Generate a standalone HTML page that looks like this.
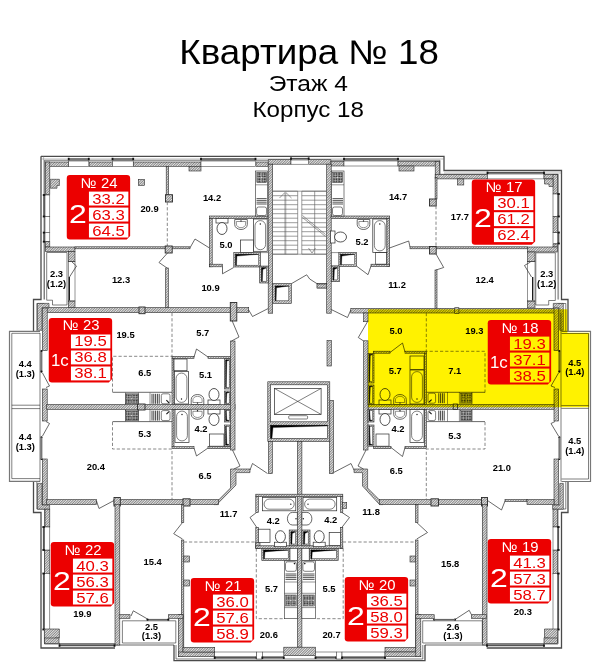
<!DOCTYPE html>
<html><head><meta charset="utf-8"><title>Квартира № 18</title>
<style>
html,body{margin:0;padding:0;background:#fff;}
body{width:600px;height:669px;overflow:hidden;font-family:"Liberation Sans",sans-serif;}
svg{display:block;font-family:"Liberation Sans",sans-serif;}
</style></head><body>
<svg width="600" height="669" viewBox="0 0 600 669">
<defs>
<pattern id="h" width="1.8" height="1.8" patternUnits="userSpaceOnUse" patternTransform="rotate(-45)">
<rect width="1.8" height="1.8" fill="#e4e4e4"/><rect width="1.8" height="0.8" fill="#7c7c7c"/>
</pattern>
<pattern id="g" width="1.6" height="1.6" patternUnits="userSpaceOnUse">
<rect width="1.6" height="1.6" fill="#fff"/><rect width="1.25" height="1.25" fill="#262626"/>
</pattern>
</defs>
<rect width="600" height="669" fill="#fff"/>
<g font-family="Liberation Sans, sans-serif">
<text x="309.1" y="63.8" font-size="34.3" text-anchor="middle" fill="#000" textLength="259.5" lengthAdjust="spacingAndGlyphs">Квартира № 18</text>
<text x="308.3" y="90.5" font-size="22.5" text-anchor="middle" fill="#000" textLength="79.3" lengthAdjust="spacingAndGlyphs">Этаж 4</text>
<text x="308.2" y="116.8" font-size="22.5" text-anchor="middle" fill="#000" textLength="111.5" lengthAdjust="spacingAndGlyphs">Корпус 18</text>
<polyline points="41,156.3 444,156.3 444,170.5 561.5,170.5 561.5,299.5 568,299.5 568,331.3" fill="none" stroke="#4a4a4a" stroke-width="1.3"/>
<polyline points="568,481.5 568,512.5 561.5,512.5 561.5,648 486.7,648" fill="none" stroke="#4a4a4a" stroke-width="1.3"/>
<polyline points="425,645 425,660.7 174,660.7 174,645" fill="none" stroke="#4a4a4a" stroke-width="1.3"/>
<line x1="486.7" y1="645" x2="425" y2="645" stroke="#2a2a2a" stroke-width="0.7"/>
<line x1="174" y1="645" x2="115" y2="645" stroke="#2a2a2a" stroke-width="0.7"/>
<polyline points="115,648 41,648 41,512.5 33.5,512.5 33.5,481.5" fill="none" stroke="#4a4a4a" stroke-width="1.3"/>
<polyline points="33.5,331.3 33.5,299.5 41,299.5 41,156.3" fill="none" stroke="#4a4a4a" stroke-width="1.3"/>
<polyline points="44.5,299.5 44.5,160.3 440,160.3 440,174.3 558,174.3 558,299.5" fill="none" stroke="#2a2a2a" stroke-width="0.6"/>
<polyline points="558,303.5 565.8,303.5 565.8,331.3" fill="none" stroke="#2a2a2a" stroke-width="0.6"/>
<polyline points="565.8,481.5 565.8,509 558,509 558,644 486.7,644" fill="none" stroke="#2a2a2a" stroke-width="0.6"/>
<polyline points="422.8,645 422.8,659 176,659 176,645" fill="none" stroke="#2a2a2a" stroke-width="0.6"/>
<polyline points="115,644 44.5,644 44.5,509 36.8,509 36.8,481.5" fill="none" stroke="#2a2a2a" stroke-width="0.6"/>
<polyline points="36.8,331.3 36.8,303.5 44.5,303.5" fill="none" stroke="#2a2a2a" stroke-width="0.6"/>
<line x1="41" y1="159" x2="444" y2="159" stroke="#777" stroke-width="0.5"/>
<rect x="45.3" y="162" width="23.4" height="4.3" fill="url(#h)" stroke="#2a2a2a" stroke-width="0.6"/>
<rect x="45.3" y="162" width="4.5" height="32.5" fill="url(#h)" stroke="#2a2a2a" stroke-width="0.6"/>
<rect x="89.2" y="162" width="23.3" height="4.3" fill="url(#h)" stroke="#2a2a2a" stroke-width="0.6"/>
<rect x="133.5" y="162" width="67.5" height="4.3" fill="url(#h)" stroke="#2a2a2a" stroke-width="0.6"/>
<rect x="189" y="166.3" width="12" height="4.7" fill="url(#h)" stroke="#2a2a2a" stroke-width="0.6"/>
<rect x="256" y="162" width="12.2" height="4.3" fill="url(#h)" stroke="#2a2a2a" stroke-width="0.6"/>
<rect x="68.7" y="161" width="20.1" height="5.3" fill="#fff" stroke="#2a2a2a" stroke-width="0.5"/>
<line x1="68.7" y1="159" x2="88.8" y2="159" stroke="#555" stroke-width="1.4"/>
<rect x="67.8" y="157.8" width="1.8" height="2.4" fill="#111"/>
<rect x="87.9" y="157.8" width="1.8" height="2.4" fill="#111"/>
<rect x="112.5" y="161" width="20.7" height="5.3" fill="#fff" stroke="#2a2a2a" stroke-width="0.5"/>
<line x1="112.5" y1="159" x2="133.2" y2="159" stroke="#555" stroke-width="1.4"/>
<rect x="111.6" y="157.8" width="1.8" height="2.4" fill="#111"/>
<rect x="132.3" y="157.8" width="1.8" height="2.4" fill="#111"/>
<rect x="201" y="161" width="54.5" height="5.3" fill="#fff" stroke="#2a2a2a" stroke-width="0.5"/>
<line x1="201" y1="159" x2="255.5" y2="159" stroke="#555" stroke-width="1.4"/>
<rect x="200.1" y="157.8" width="1.8" height="2.4" fill="#111"/>
<rect x="254.6" y="157.8" width="1.8" height="2.4" fill="#111"/>
<rect x="268.2" y="159.7" width="22.8" height="4.5" fill="url(#h)" stroke="#2a2a2a" stroke-width="0.6"/>
<rect x="308.7" y="159.7" width="22.2" height="4.5" fill="url(#h)" stroke="#2a2a2a" stroke-width="0.6"/>
<rect x="291" y="160" width="17.7" height="4.2" fill="#fff" stroke="#2a2a2a" stroke-width="0.5"/>
<line x1="291" y1="158.6" x2="308.7" y2="158.6" stroke="#555" stroke-width="1.4"/>
<rect x="290.1" y="157.4" width="1.8" height="2.4" fill="#111"/>
<rect x="307.8" y="157.4" width="1.8" height="2.4" fill="#111"/>
<rect x="331" y="161.5" width="13" height="4.5" fill="url(#h)" stroke="#2a2a2a" stroke-width="0.6"/>
<rect x="344" y="161" width="54" height="5" fill="#fff" stroke="#2a2a2a" stroke-width="0.5"/>
<line x1="344" y1="159" x2="398" y2="159" stroke="#555" stroke-width="1.4"/>
<rect x="343.1" y="157.8" width="1.8" height="2.4" fill="#111"/>
<rect x="397.1" y="157.8" width="1.8" height="2.4" fill="#111"/>
<rect x="398" y="161.5" width="41.5" height="4.5" fill="url(#h)" stroke="#2a2a2a" stroke-width="0.6"/>
<rect x="399" y="166" width="15" height="5" fill="url(#h)" stroke="#2a2a2a" stroke-width="0.6"/>
<rect x="435.2" y="161.5" width="4.3" height="16" fill="url(#h)" stroke="#2a2a2a" stroke-width="0.6"/>
<rect x="435.2" y="174.6" width="52.3" height="4.3" fill="url(#h)" stroke="#2a2a2a" stroke-width="0.6"/>
<rect x="457.5" y="178.9" width="6.3" height="6.1" fill="url(#h)" stroke="#2a2a2a" stroke-width="0.6"/>
<line x1="444" y1="173" x2="561.5" y2="173" stroke="#777" stroke-width="0.5"/>
<rect x="487.5" y="174" width="56.5" height="4.9" fill="#fff" stroke="#2a2a2a" stroke-width="0.5"/>
<line x1="487.5" y1="172.8" x2="544" y2="172.8" stroke="#555" stroke-width="1.4"/>
<rect x="486.6" y="171.6" width="1.8" height="2.4" fill="#111"/>
<rect x="543.1" y="171.6" width="1.8" height="2.4" fill="#111"/>
<rect x="544" y="174.6" width="13.6" height="4.3" fill="url(#h)" stroke="#2a2a2a" stroke-width="0.6"/>
<rect x="553" y="174.6" width="4.6" height="19.4" fill="url(#h)" stroke="#2a2a2a" stroke-width="0.6"/>
<polygon points="544.5,178.9 553,178.9 553,186.5 549,186.5 549,184 544.5,184" fill="url(#h)" stroke="#2a2a2a" stroke-width="0.6"/>
<polygon points="50.3,179.3 59.4,179.3 59.4,185.5 57,185.5 57,188.2 50.3,188.2" fill="url(#h)" stroke="#2a2a2a" stroke-width="0.6"/>
<rect x="138.3" y="179.5" width="6.2" height="5.8" fill="url(#h)" stroke="#2a2a2a" stroke-width="0.6"/>
<line x1="43.6" y1="156.3" x2="43.6" y2="299.5" stroke="#777" stroke-width="0.5"/>
<rect x="45" y="195" width="4.8" height="21.5" fill="#fff" stroke="#2a2a2a" stroke-width="0.5"/>
<line x1="44" y1="195" x2="44" y2="216.5" stroke="#555" stroke-width="1.4"/>
<rect x="42.8" y="194.1" width="2.4" height="1.8" fill="#111"/>
<rect x="42.8" y="215.6" width="2.4" height="1.8" fill="#111"/>
<rect x="45" y="232.6" width="4.8" height="9.1" fill="#fff" stroke="#2a2a2a" stroke-width="0.5"/>
<line x1="44" y1="232.6" x2="44" y2="241.7" stroke="#555" stroke-width="1.4"/>
<rect x="42.8" y="231.7" width="2.4" height="1.8" fill="#111"/>
<rect x="42.8" y="240.8" width="2.4" height="1.8" fill="#111"/>
<rect x="45" y="216.5" width="4.8" height="16.1" fill="#fff" stroke="#2a2a2a" stroke-width="0.5"/>
<rect x="45.3" y="241.7" width="4.5" height="5.3" fill="url(#h)" stroke="#2a2a2a" stroke-width="0.6"/>
<line x1="558.6" y1="174" x2="558.6" y2="299.5" stroke="#777" stroke-width="0.5"/>
<rect x="553" y="194" width="4.6" height="22.5" fill="#fff" stroke="#2a2a2a" stroke-width="0.5"/>
<line x1="558.6" y1="194" x2="558.6" y2="216.5" stroke="#555" stroke-width="1.4"/>
<rect x="557.4" y="193.1" width="2.4" height="1.8" fill="#111"/>
<rect x="557.4" y="215.6" width="2.4" height="1.8" fill="#111"/>
<rect x="553" y="232.5" width="4.6" height="11" fill="#fff" stroke="#2a2a2a" stroke-width="0.5"/>
<line x1="558.6" y1="232.5" x2="558.6" y2="243.5" stroke="#555" stroke-width="1.4"/>
<rect x="557.4" y="231.6" width="2.4" height="1.8" fill="#111"/>
<rect x="557.4" y="242.6" width="2.4" height="1.8" fill="#111"/>
<rect x="553" y="216.5" width="4.6" height="16" fill="url(#h)" stroke="#2a2a2a" stroke-width="0.6"/>
<rect x="553" y="244" width="4.6" height="3" fill="url(#h)" stroke="#2a2a2a" stroke-width="0.6"/>
<rect x="45.3" y="247" width="29.7" height="4.5" fill="url(#h)" stroke="#2a2a2a" stroke-width="0.6"/>
<rect x="68.3" y="251.5" width="6.7" height="10" fill="url(#h)" stroke="#2a2a2a" stroke-width="0.6"/>
<rect x="68.3" y="301" width="6.7" height="7" fill="url(#h)" stroke="#2a2a2a" stroke-width="0.6"/>
<polygon points="46.7,252.5 67,252.5 67,305 52.5,305 52.5,300.2 46.7,300.2" fill="none" stroke="#2a2a2a" stroke-width="0.6"/>
<line x1="69.3" y1="277" x2="69.3" y2="300.5" stroke="#111" stroke-width="1.3"/>
<polyline points="72,262 76.5,266 69.5,277" fill="none" stroke="#2a2a2a" stroke-width="0.7"/>
<rect x="68.3" y="261.5" width="6.7" height="39.5" fill="none" stroke="#2a2a2a" stroke-width="0.5"/>
<rect x="527.5" y="247" width="30.1" height="5" fill="url(#h)" stroke="#2a2a2a" stroke-width="0.6"/>
<rect x="527.5" y="252" width="7.5" height="9.5" fill="url(#h)" stroke="#2a2a2a" stroke-width="0.6"/>
<rect x="527.5" y="301" width="7.5" height="7" fill="url(#h)" stroke="#2a2a2a" stroke-width="0.6"/>
<polygon points="555.3,252.8 535.8,252.8 535.8,305 548.7,305 548.7,300.5 555.3,300.5" fill="none" stroke="#2a2a2a" stroke-width="0.6"/>
<line x1="532.7" y1="277" x2="532.7" y2="300.5" stroke="#111" stroke-width="1.3"/>
<polyline points="530.5,262 524.5,265.5 531.5,277" fill="none" stroke="#2a2a2a" stroke-width="0.7"/>
<rect x="527.5" y="261.5" width="7.5" height="39.5" fill="none" stroke="#2a2a2a" stroke-width="0.5"/>
<rect x="166.2" y="166.5" width="2.4" height="28.5" fill="url(#h)" stroke="#2a2a2a" stroke-width="0.6"/>
<rect x="165.5" y="194.7" width="7" height="7.3" fill="url(#h)" stroke="#2a2a2a" stroke-width="0.9"/>
<polyline points="167.3,202 167.3,247" fill="none" stroke="#6a6a6a" stroke-width="0.8" stroke-dasharray="3.2 2"/>
<rect x="75" y="246.8" width="115" height="2" fill="url(#h)" stroke="#2a2a2a" stroke-width="0.6"/>
<rect x="165.2" y="246" width="7" height="7" fill="url(#h)" stroke="#2a2a2a" stroke-width="0.9"/>
<polyline points="190,247.8 195,239 209.5,248" fill="none" stroke="#2a2a2a" stroke-width="0.7"/>
<polyline points="167.5,253 159,262.5 167,268" fill="none" stroke="#2a2a2a" stroke-width="0.7"/>
<rect x="165.7" y="268" width="2.6" height="40" fill="url(#h)" stroke="#2a2a2a" stroke-width="0.6"/>
<rect x="209.5" y="216" width="58.5" height="2.6" fill="url(#h)" stroke="#2a2a2a" stroke-width="0.6"/>
<rect x="209.5" y="218.6" width="2.7" height="48.2" fill="url(#h)" stroke="#2a2a2a" stroke-width="0.6"/>
<rect x="209.5" y="264.2" width="13" height="2.6" fill="url(#h)" stroke="#2a2a2a" stroke-width="0.6"/>
<polyline points="222.5,266.8 222.5,273.8 233.7,267.5" fill="none" stroke="#2a2a2a" stroke-width="0.7"/>
<rect x="46.7" y="307.6" width="202" height="5" fill="url(#h)" stroke="#2a2a2a" stroke-width="0.6"/>
<rect x="139" y="307" width="6" height="6.7" fill="url(#h)" stroke="#2a2a2a" stroke-width="0.9"/>
<rect x="230.3" y="302.5" width="6.5" height="18.5" fill="url(#h)" stroke="#2a2a2a" stroke-width="0.9"/>
<polyline points="248.7,310 252.5,316.5 268.2,308.5" fill="none" stroke="#2a2a2a" stroke-width="0.7"/>
<rect x="268.2" y="164.2" width="4.5" height="149" fill="url(#h)" stroke="#2a2a2a" stroke-width="0.6"/>
<rect x="326.7" y="164.2" width="4.5" height="149" fill="url(#h)" stroke="#2a2a2a" stroke-width="0.6"/>
<line x1="272.7" y1="191.2" x2="297.7" y2="191.2" stroke="#5a5a5a" stroke-width="0.6"/>
<line x1="301.8" y1="191.2" x2="326.7" y2="191.2" stroke="#5a5a5a" stroke-width="0.6"/>
<line x1="272.7" y1="195.7" x2="297.7" y2="195.7" stroke="#5a5a5a" stroke-width="0.6"/>
<line x1="301.8" y1="195.7" x2="326.7" y2="195.7" stroke="#5a5a5a" stroke-width="0.6"/>
<line x1="272.7" y1="200.2" x2="297.7" y2="200.2" stroke="#5a5a5a" stroke-width="0.6"/>
<line x1="301.8" y1="200.2" x2="326.7" y2="200.2" stroke="#5a5a5a" stroke-width="0.6"/>
<line x1="272.7" y1="204.7" x2="297.7" y2="204.7" stroke="#5a5a5a" stroke-width="0.6"/>
<line x1="301.8" y1="204.7" x2="326.7" y2="204.7" stroke="#5a5a5a" stroke-width="0.6"/>
<line x1="272.7" y1="209.2" x2="297.7" y2="209.2" stroke="#5a5a5a" stroke-width="0.6"/>
<line x1="301.8" y1="209.2" x2="326.7" y2="209.2" stroke="#5a5a5a" stroke-width="0.6"/>
<line x1="272.7" y1="213.7" x2="297.7" y2="213.7" stroke="#5a5a5a" stroke-width="0.6"/>
<line x1="301.8" y1="213.7" x2="326.7" y2="213.7" stroke="#5a5a5a" stroke-width="0.6"/>
<line x1="272.7" y1="218.2" x2="297.7" y2="218.2" stroke="#5a5a5a" stroke-width="0.6"/>
<line x1="301.8" y1="218.2" x2="326.7" y2="218.2" stroke="#5a5a5a" stroke-width="0.6"/>
<line x1="272.7" y1="222.7" x2="297.7" y2="222.7" stroke="#5a5a5a" stroke-width="0.6"/>
<line x1="301.8" y1="222.7" x2="326.7" y2="222.7" stroke="#5a5a5a" stroke-width="0.6"/>
<line x1="272.7" y1="227.2" x2="297.7" y2="227.2" stroke="#5a5a5a" stroke-width="0.6"/>
<line x1="301.8" y1="227.2" x2="326.7" y2="227.2" stroke="#5a5a5a" stroke-width="0.6"/>
<line x1="272.7" y1="231.7" x2="297.7" y2="231.7" stroke="#5a5a5a" stroke-width="0.6"/>
<line x1="301.8" y1="231.7" x2="326.7" y2="231.7" stroke="#5a5a5a" stroke-width="0.6"/>
<line x1="272.7" y1="236.2" x2="297.7" y2="236.2" stroke="#5a5a5a" stroke-width="0.6"/>
<line x1="301.8" y1="236.2" x2="326.7" y2="236.2" stroke="#5a5a5a" stroke-width="0.6"/>
<line x1="272.7" y1="240.7" x2="297.7" y2="240.7" stroke="#5a5a5a" stroke-width="0.6"/>
<line x1="301.8" y1="240.7" x2="326.7" y2="240.7" stroke="#5a5a5a" stroke-width="0.6"/>
<line x1="272.7" y1="245.2" x2="297.7" y2="245.2" stroke="#5a5a5a" stroke-width="0.6"/>
<line x1="301.8" y1="245.2" x2="326.7" y2="245.2" stroke="#5a5a5a" stroke-width="0.6"/>
<line x1="272.7" y1="249.7" x2="297.7" y2="249.7" stroke="#5a5a5a" stroke-width="0.6"/>
<line x1="301.8" y1="249.7" x2="326.7" y2="249.7" stroke="#5a5a5a" stroke-width="0.6"/>
<line x1="272.7" y1="254.2" x2="297.7" y2="254.2" stroke="#5a5a5a" stroke-width="0.6"/>
<line x1="301.8" y1="254.2" x2="326.7" y2="254.2" stroke="#5a5a5a" stroke-width="0.6"/>
<line x1="272.7" y1="191.2" x2="326.7" y2="191.2" stroke="#5a5a5a" stroke-width="0.6"/>
<line x1="272.7" y1="254.2" x2="326.7" y2="254.2" stroke="#5a5a5a" stroke-width="0.6"/>
<line x1="297.7" y1="191.2" x2="297.7" y2="254.2" stroke="#5a5a5a" stroke-width="0.6"/>
<line x1="301.8" y1="191.2" x2="301.8" y2="254.2" stroke="#5a5a5a" stroke-width="0.6"/>
<line x1="285" y1="193" x2="285" y2="254.2" stroke="#5a5a5a" stroke-width="0.6"/>
<line x1="285.9" y1="193" x2="285.9" y2="254.2" stroke="#5a5a5a" stroke-width="0.4"/>
<polyline points="279.5,198 285.4,192 291.5,198" fill="none" stroke="#5a5a5a" stroke-width="0.6"/>
<line x1="314.7" y1="191.2" x2="314.7" y2="254.2" stroke="#5a5a5a" stroke-width="0.6"/>
<line x1="302.5" y1="215.5" x2="325.5" y2="234.5" stroke="#5a5a5a" stroke-width="0.6"/>
<line x1="302.5" y1="217.5" x2="325.5" y2="236.5" stroke="#5a5a5a" stroke-width="0.6"/>
<polyline points="308.5,248 312,253 315.5,248" fill="none" stroke="#5a5a5a" stroke-width="0.6"/>
<rect x="272.7" y="283.5" width="18.6" height="19.8" fill="url(#h)" stroke="#2a2a2a" stroke-width="0.6"/>
<rect x="275.2" y="286" width="13.6" height="14.8" fill="#fff" stroke="#2a2a2a" stroke-width="0.5"/>
<polygon points="275.2,286 288.8,286 276.5,287.8 276.1,300.8 275.2,300.8" fill="#000" stroke="#000" stroke-width="0.3"/>
<polyline points="291.7,283.5 306.7,274.8 309.7,279 317.2,283.8" fill="none" stroke="#2a2a2a" stroke-width="0.7"/>
<rect x="317.2" y="283.5" width="9.5" height="4.5" fill="url(#h)" stroke="#2a2a2a" stroke-width="0.6"/>
<rect x="233.8" y="252.5" width="26.7" height="14.5" fill="url(#h)" stroke="#2a2a2a" stroke-width="0.6"/>
<rect x="235.6" y="254.3" width="23.1" height="10.9" fill="#fff" stroke="#2a2a2a" stroke-width="0.5"/>
<polygon points="235.6,254.3 258.7,254.3 236.9,256.1 236.5,265.2 235.6,265.2" fill="#000" stroke="#000" stroke-width="0.3"/>
<rect x="259.7" y="266" width="8.7" height="17" fill="url(#h)" stroke="#2a2a2a" stroke-width="0.6"/>
<rect x="261.5" y="267.8" width="5.1" height="13.4" fill="#fff" stroke="#2a2a2a" stroke-width="0.5"/>
<polygon points="261.5,267.8 266.6,267.8 262.8,269.6 262.4,281.2 261.5,281.2" fill="#000" stroke="#000" stroke-width="0.3"/>
<rect x="260.5" y="252.8" width="7.9" height="13.2" fill="#fff" stroke="#2a2a2a" stroke-width="0.5"/>
<rect x="338.8" y="252.5" width="17.6" height="14" fill="url(#h)" stroke="#2a2a2a" stroke-width="0.6"/>
<rect x="340.6" y="254.3" width="14" height="10.4" fill="#fff" stroke="#2a2a2a" stroke-width="0.5"/>
<polygon points="340.6,254.3 354.6,254.3 341.9,256.1 341.5,264.7 340.6,264.7" fill="#000" stroke="#000" stroke-width="0.3"/>
<rect x="331.5" y="252.8" width="7.3" height="13.2" fill="#fff" stroke="#2a2a2a" stroke-width="0.5"/>
<rect x="331.3" y="266" width="8.2" height="15.7" fill="url(#h)" stroke="#2a2a2a" stroke-width="0.6"/>
<rect x="333.1" y="267.8" width="4.6" height="12.1" fill="#fff" stroke="#2a2a2a" stroke-width="0.5"/>
<polygon points="333.1,267.8 337.7,267.8 334.4,269.6 334,279.9 333.1,279.9" fill="#000" stroke="#000" stroke-width="0.3"/>
<rect x="331" y="216" width="58.7" height="2.6" fill="url(#h)" stroke="#2a2a2a" stroke-width="0.6"/>
<rect x="386.8" y="218.6" width="2.9" height="47.9" fill="url(#h)" stroke="#2a2a2a" stroke-width="0.6"/>
<rect x="371" y="264.2" width="18.7" height="2.3" fill="url(#h)" stroke="#2a2a2a" stroke-width="0.6"/>
<polyline points="356.4,266 368,274.7 371,266" fill="none" stroke="#2a2a2a" stroke-width="0.7"/>
<polyline points="389.5,248 408.7,241 410,247" fill="none" stroke="#2a2a2a" stroke-width="0.7"/>
<rect x="410" y="246.8" width="117.5" height="2" fill="url(#h)" stroke="#2a2a2a" stroke-width="0.6"/>
<rect x="429.5" y="246.5" width="6.7" height="7.5" fill="url(#h)" stroke="#2a2a2a" stroke-width="0.9"/>
<rect x="435.1" y="177.5" width="1.9" height="21.5" fill="url(#h)" stroke="#2a2a2a" stroke-width="0.6"/>
<rect x="429.5" y="199" width="6.7" height="7" fill="url(#h)" stroke="#2a2a2a" stroke-width="0.9"/>
<polyline points="436,206 436,247" fill="none" stroke="#6a6a6a" stroke-width="0.8" stroke-dasharray="3.2 2"/>
<polyline points="436,254 443.7,267.5 436,270" fill="none" stroke="#2a2a2a" stroke-width="0.7"/>
<rect x="435" y="270" width="2" height="38.5" fill="url(#h)" stroke="#2a2a2a" stroke-width="0.6"/>
<rect x="350.8" y="308.4" width="206.8" height="4.6" fill="url(#h)" stroke="#2a2a2a" stroke-width="0.6"/>
<rect x="454.7" y="307.7" width="4.2" height="5.7" fill="url(#h)" stroke="#2a2a2a" stroke-width="0.6"/>
<polyline points="331.2,309.5 347.5,317.5 350.8,310" fill="none" stroke="#2a2a2a" stroke-width="0.7"/>
<rect x="317" y="284" width="9.7" height="4" fill="url(#h)" stroke="#2a2a2a" stroke-width="0.6"/>
<polygon points="37.5,303.4 49,303.4 49,307.8 42,307.8 42,330.3 37.5,330.3" fill="url(#h)" stroke="#2a2a2a" stroke-width="0.6"/>
<rect x="42.4" y="308" width="4.8" height="42.5" fill="url(#h)" stroke="#2a2a2a" stroke-width="0.6"/>
<rect x="42.4" y="389" width="4.8" height="32" fill="url(#h)" stroke="#2a2a2a" stroke-width="0.6"/>
<rect x="42.4" y="459" width="4.8" height="46" fill="url(#h)" stroke="#2a2a2a" stroke-width="0.6"/>
<polygon points="37.5,483.4 42,483.4 42,505 49.6,505 49.6,509.2 37.5,509.2" fill="url(#h)" stroke="#2a2a2a" stroke-width="0.6"/>
<polyline points="40,331.3 9.5,331.3 9.5,481.3 40,481.3" fill="none" stroke="#777" stroke-width="1.2"/>
<polyline points="40,333.3 11.8,333.3 11.8,478.6 40,478.6" fill="none" stroke="#2a2a2a" stroke-width="0.6"/>
<line x1="40" y1="333" x2="40" y2="481.5" stroke="#2a2a2a" stroke-width="0.6"/>
<line x1="11.8" y1="405.2" x2="40" y2="405.2" stroke="#2a2a2a" stroke-width="0.6"/>
<line x1="11.8" y1="408.6" x2="40" y2="408.6" stroke="#2a2a2a" stroke-width="0.6"/>
<line x1="41.3" y1="351.5" x2="41.3" y2="371.5" stroke="#777" stroke-width="2.2"/>
<circle cx="41.5" cy="351" r="1.1" fill="#111"/>
<circle cx="41.5" cy="371.7" r="1.1" fill="#111"/>
<circle cx="41.5" cy="437.3" r="1.1" fill="#111"/>
<circle cx="41.5" cy="459" r="1.1" fill="#111"/>
<polyline points="42.5,373 49.5,386 46,387.5" fill="none" stroke="#2a2a2a" stroke-width="0.7"/>
<line x1="41.3" y1="437.5" x2="41.3" y2="459" stroke="#777" stroke-width="2.2"/>
<polyline points="42.5,436 49.5,423.5 46,421.5" fill="none" stroke="#2a2a2a" stroke-width="0.7"/>
<polygon points="563.3,303.4 553.3,303.4 553.3,308.2 559.8,308.2 559.8,330.3 563.3,330.3" fill="url(#h)" stroke="#2a2a2a" stroke-width="0.6"/>
<rect x="554" y="308" width="4.6" height="42.5" fill="url(#h)" stroke="#2a2a2a" stroke-width="0.6"/>
<rect x="554" y="389" width="4.6" height="32" fill="url(#h)" stroke="#2a2a2a" stroke-width="0.6"/>
<rect x="554" y="459" width="4.6" height="46" fill="url(#h)" stroke="#2a2a2a" stroke-width="0.6"/>
<polygon points="563.3,483.4 559.8,483.4 559.8,505 552.6,505 552.6,509.2 563.3,509.2" fill="url(#h)" stroke="#2a2a2a" stroke-width="0.6"/>
<polyline points="561.5,331.3 590.5,331.3 590.5,481.5 561.5,481.5" fill="none" stroke="#777" stroke-width="1.2"/>
<polyline points="561.5,333.5 588.5,333.5 588.5,479 561.5,479" fill="none" stroke="#2a2a2a" stroke-width="0.6"/>
<line x1="561" y1="313" x2="561" y2="481.5" stroke="#2a2a2a" stroke-width="0.6"/>
<line x1="561.3" y1="405.6" x2="588.8" y2="405.6" stroke="#2a2a2a" stroke-width="0.6"/>
<line x1="561.3" y1="408.4" x2="588.8" y2="408.4" stroke="#2a2a2a" stroke-width="0.6"/>
<line x1="559.5" y1="351.5" x2="559.5" y2="371.5" stroke="#777" stroke-width="2.2"/>
<circle cx="559.3" cy="351" r="1.1" fill="#111"/>
<circle cx="559.3" cy="371.7" r="1.1" fill="#111"/>
<circle cx="559.3" cy="437.3" r="1.1" fill="#111"/>
<circle cx="559.3" cy="459" r="1.1" fill="#111"/>
<polyline points="558.5,373 551,386 555,387.5" fill="none" stroke="#2a2a2a" stroke-width="0.7"/>
<line x1="559.5" y1="437.5" x2="559.5" y2="459" stroke="#777" stroke-width="2.2"/>
<polyline points="558.5,436 551,423.5 555,421.5" fill="none" stroke="#2a2a2a" stroke-width="0.7"/>
<rect x="46.7" y="404.5" width="188.3" height="4.8" fill="url(#h)" stroke="#2a2a2a" stroke-width="0.6"/>
<rect x="137.5" y="404" width="7.5" height="6" fill="url(#h)" stroke="#2a2a2a" stroke-width="0.9"/>
<rect x="368" y="404.5" width="186" height="4.8" fill="url(#h)" stroke="#2a2a2a" stroke-width="0.6"/>
<rect x="453.2" y="404" width="4.2" height="5.4" fill="url(#h)" stroke="#2a2a2a" stroke-width="0.8"/>
<polyline points="172,313 172,356.3 112.5,356.3 112.5,392.5" fill="none" stroke="#6a6a6a" stroke-width="0.8" stroke-dasharray="3.2 2"/>
<line x1="112.5" y1="392.3" x2="172.5" y2="392.3" stroke="#2a2a2a" stroke-width="0.7"/>
<rect x="230.5" y="341" width="4.5" height="109" fill="url(#h)" stroke="#2a2a2a" stroke-width="0.6"/>
<polyline points="232,320.5 239,337 231.5,341" fill="none" stroke="#2a2a2a" stroke-width="0.7"/>
<rect x="172" y="356.4" width="22" height="2" fill="url(#h)" stroke="#2a2a2a" stroke-width="0.6"/>
<rect x="208" y="356.4" width="22.5" height="2" fill="url(#h)" stroke="#2a2a2a" stroke-width="0.6"/>
<rect x="172" y="358.4" width="2" height="46.1" fill="url(#h)" stroke="#2a2a2a" stroke-width="0.6"/>
<polyline points="194,357 196.5,349 208,357" fill="none" stroke="#2a2a2a" stroke-width="0.7"/>
<rect x="224.5" y="358.8" width="6" height="30.2" fill="url(#h)" stroke="#2a2a2a" stroke-width="0.6"/>
<rect x="225.8" y="360.1" width="3.4" height="27.6" fill="#fff" stroke="#2a2a2a" stroke-width="0.5"/>
<polygon points="225.8,360.1 229.2,360.1 226.8,361.1 226.3,387.7 225.8,387.7" fill="#000" stroke="#000" stroke-width="0.3"/>
<rect x="224.5" y="391" width="6" height="13.5" fill="url(#h)" stroke="#2a2a2a" stroke-width="0.6"/>
<rect x="225.8" y="392.3" width="3.4" height="10.9" fill="#fff" stroke="#2a2a2a" stroke-width="0.5"/>
<polygon points="225.8,392.3 229.2,392.3 226.8,393.3 226.3,403.2 225.8,403.2" fill="#000" stroke="#000" stroke-width="0.3"/>
<polyline points="112.5,422 112.5,449 172,449 172,499.5" fill="none" stroke="#6a6a6a" stroke-width="0.8" stroke-dasharray="3.2 2"/>
<line x1="112.5" y1="421.6" x2="172.5" y2="421.6" stroke="#2a2a2a" stroke-width="0.7"/>
<rect x="172" y="446.6" width="22" height="2" fill="url(#h)" stroke="#2a2a2a" stroke-width="0.6"/>
<rect x="208" y="446.6" width="22.5" height="2" fill="url(#h)" stroke="#2a2a2a" stroke-width="0.6"/>
<rect x="172" y="409.3" width="2" height="37.3" fill="url(#h)" stroke="#2a2a2a" stroke-width="0.6"/>
<polyline points="194,448 196.5,456 208,448" fill="none" stroke="#2a2a2a" stroke-width="0.7"/>
<rect x="224.5" y="409.3" width="6" height="12.7" fill="url(#h)" stroke="#2a2a2a" stroke-width="0.6"/>
<rect x="225.8" y="410.6" width="3.4" height="10.1" fill="#fff" stroke="#2a2a2a" stroke-width="0.5"/>
<polygon points="225.8,420.7 229.2,420.7 226.8,419.7 226.3,410.6 225.8,410.6" fill="#000" stroke="#000" stroke-width="0.3"/>
<rect x="224.5" y="425" width="6" height="21.2" fill="url(#h)" stroke="#2a2a2a" stroke-width="0.6"/>
<rect x="225.8" y="426.3" width="3.4" height="18.6" fill="#fff" stroke="#2a2a2a" stroke-width="0.5"/>
<polygon points="225.8,444.9 229.2,444.9 226.8,443.9 226.3,426.3 225.8,426.3" fill="#000" stroke="#000" stroke-width="0.3"/>
<polyline points="232.5,450 240,466 234,469" fill="none" stroke="#2a2a2a" stroke-width="0.7"/>
<polygon points="230.5,469 250,469 250,472.6 236,472.6 236,485 218.3,503 218.3,504.6 214,504.6 230.5,488" fill="url(#h)" stroke="#2a2a2a" stroke-width="0.6"/>
<polyline points="250,470 252.5,463.5 267.5,473.5" fill="none" stroke="#2a2a2a" stroke-width="0.7"/>
<rect x="46.7" y="499.6" width="49.8" height="5" fill="url(#h)" stroke="#2a2a2a" stroke-width="0.6"/>
<rect x="114" y="499.6" width="104.3" height="5" fill="url(#h)" stroke="#2a2a2a" stroke-width="0.6"/>
<rect x="114" y="497.5" width="6.3" height="8.5" fill="url(#h)" stroke="#2a2a2a" stroke-width="0.9"/>
<rect x="183" y="498.8" width="7" height="7.2" fill="url(#h)" stroke="#2a2a2a" stroke-width="0.9"/>
<polyline points="96.5,501 99,508.5 114,500.5" fill="none" stroke="#2a2a2a" stroke-width="0.7"/>
<rect x="363.5" y="313" width="4.5" height="8.7" fill="url(#h)" stroke="#2a2a2a" stroke-width="0.6"/>
<rect x="363.5" y="340.8" width="4.5" height="109.2" fill="url(#h)" stroke="#2a2a2a" stroke-width="0.6"/>
<polyline points="367.5,321.7 358.3,337.5 363.3,340.8" fill="none" stroke="#2a2a2a" stroke-width="0.7"/>
<polyline points="426.3,313 426.3,351.3 485,351.3 485,392.5" fill="none" stroke="#6a6a6a" stroke-width="0.8" stroke-dasharray="3.2 2"/>
<line x1="426.3" y1="392.3" x2="485" y2="392.3" stroke="#2a2a2a" stroke-width="0.7"/>
<rect x="373.5" y="351.2" width="16.5" height="2" fill="url(#h)" stroke="#2a2a2a" stroke-width="0.6"/>
<rect x="405" y="351.2" width="21.3" height="2" fill="url(#h)" stroke="#2a2a2a" stroke-width="0.6"/>
<rect x="424.3" y="353.2" width="2" height="51.3" fill="url(#h)" stroke="#2a2a2a" stroke-width="0.6"/>
<polyline points="390,352.5 402.5,343 405,352" fill="none" stroke="#2a2a2a" stroke-width="0.7"/>
<rect x="368" y="353.3" width="6" height="29.7" fill="url(#h)" stroke="#2a2a2a" stroke-width="0.6"/>
<rect x="369.3" y="354.6" width="3.4" height="27.1" fill="#fff" stroke="#2a2a2a" stroke-width="0.5"/>
<polygon points="369.3,354.6 372.7,354.6 370.3,355.6 369.8,381.7 369.3,381.7" fill="#000" stroke="#000" stroke-width="0.3"/>
<rect x="368" y="385" width="6" height="19.5" fill="url(#h)" stroke="#2a2a2a" stroke-width="0.6"/>
<rect x="369.3" y="386.3" width="3.4" height="16.9" fill="#fff" stroke="#2a2a2a" stroke-width="0.5"/>
<polygon points="369.3,386.3 372.7,386.3 370.3,387.3 369.8,403.2 369.3,403.2" fill="#000" stroke="#000" stroke-width="0.3"/>
<polyline points="485,422 485,449 426.3,449 426.3,499.5" fill="none" stroke="#6a6a6a" stroke-width="0.8" stroke-dasharray="3.2 2"/>
<line x1="426.3" y1="421.6" x2="485" y2="421.6" stroke="#2a2a2a" stroke-width="0.7"/>
<rect x="373.5" y="446.6" width="17.5" height="2" fill="url(#h)" stroke="#2a2a2a" stroke-width="0.6"/>
<rect x="405" y="446.6" width="21.3" height="2" fill="url(#h)" stroke="#2a2a2a" stroke-width="0.6"/>
<rect x="424.3" y="409.3" width="2" height="37.3" fill="url(#h)" stroke="#2a2a2a" stroke-width="0.6"/>
<polyline points="391,447.5 402.5,456.5 405,447.5" fill="none" stroke="#2a2a2a" stroke-width="0.7"/>
<rect x="368" y="409.3" width="6" height="12.7" fill="url(#h)" stroke="#2a2a2a" stroke-width="0.6"/>
<rect x="369.3" y="410.6" width="3.4" height="10.1" fill="#fff" stroke="#2a2a2a" stroke-width="0.5"/>
<polygon points="369.3,420.7 372.7,420.7 370.3,419.7 369.8,410.6 369.3,410.6" fill="#000" stroke="#000" stroke-width="0.3"/>
<rect x="368" y="425" width="6" height="21.2" fill="url(#h)" stroke="#2a2a2a" stroke-width="0.6"/>
<rect x="369.3" y="426.3" width="3.4" height="18.6" fill="#fff" stroke="#2a2a2a" stroke-width="0.5"/>
<polygon points="369.3,444.9 372.7,444.9 370.3,443.9 369.8,426.3 369.3,426.3" fill="#000" stroke="#000" stroke-width="0.3"/>
<polyline points="366,450 358,466 363.5,469" fill="none" stroke="#2a2a2a" stroke-width="0.7"/>
<polygon points="354,469 367.6,469 367.6,488 383,503.5 383,504.6 379.5,504.6 362.5,486 362.5,472.6 354,472.6" fill="url(#h)" stroke="#2a2a2a" stroke-width="0.6"/>
<polyline points="333.7,472.5 351,463.5 354,470" fill="none" stroke="#2a2a2a" stroke-width="0.7"/>
<rect x="379.5" y="499.6" width="102.5" height="5" fill="url(#h)" stroke="#2a2a2a" stroke-width="0.6"/>
<rect x="505" y="499.6" width="22" height="1.9" fill="url(#h)" stroke="#2a2a2a" stroke-width="0.6"/>
<rect x="527" y="499.6" width="27" height="5" fill="url(#h)" stroke="#2a2a2a" stroke-width="0.6"/>
<rect x="431" y="498.8" width="7.5" height="7.2" fill="url(#h)" stroke="#2a2a2a" stroke-width="0.9"/>
<rect x="481.5" y="497.5" width="6" height="8.5" fill="url(#h)" stroke="#2a2a2a" stroke-width="0.9"/>
<polyline points="487.5,500.5 501.5,510 505,501" fill="none" stroke="#2a2a2a" stroke-width="0.7"/>
<rect x="327" y="340.5" width="4.3" height="25.5" fill="url(#h)" stroke="#2a2a2a" stroke-width="0.6"/>
<rect x="329.3" y="400.4" width="4.3" height="73.2" fill="url(#h)" stroke="#2a2a2a" stroke-width="0.6"/>
<rect x="267.8" y="381.8" width="62" height="59.7" fill="url(#h)" stroke="#2a2a2a" stroke-width="0.6"/>
<rect x="270.6" y="384.8" width="56.8" height="37" fill="#fff" stroke="#2a2a2a" stroke-width="0.6"/>
<rect x="274.4" y="388.4" width="46.7" height="26" fill="#fff" stroke="#2a2a2a" stroke-width="0.7"/>
<line x1="274.4" y1="388.4" x2="321.1" y2="414.4" stroke="#2a2a2a" stroke-width="0.6"/>
<line x1="274.4" y1="414.4" x2="321.1" y2="388.4" stroke="#2a2a2a" stroke-width="0.6"/>
<rect x="288.7" y="415.7" width="18.9" height="3.3" rx="1" fill="#fff" stroke="#2a2a2a" stroke-width="0.6"/>
<rect x="270.6" y="425.3" width="56.8" height="13" fill="#fff" stroke="#2a2a2a" stroke-width="0.6"/>
<polygon points="270.6,425.3 327.4,425.3 327.4,425.9 273,427.6 272,438.3 270.6,438.3" fill="#000" stroke="#000" stroke-width="0.3"/>
<rect x="268.5" y="441.5" width="3.8" height="32.1" fill="url(#h)" stroke="#2a2a2a" stroke-width="0.6"/>
<rect x="297.4" y="441.5" width="4.5" height="205.7" fill="url(#h)" stroke="#2a2a2a" stroke-width="0.6"/>
<rect x="283.8" y="647.2" width="31.7" height="8.5" fill="url(#h)" stroke="#2a2a2a" stroke-width="0.6"/>
<rect x="115" y="504.6" width="4.8" height="140.4" fill="url(#h)" stroke="#2a2a2a" stroke-width="0.6"/>
<rect x="181.3" y="504.6" width="2.5" height="17.9" fill="url(#h)" stroke="#2a2a2a" stroke-width="0.6"/>
<rect x="181.3" y="540" width="2.5" height="108" fill="url(#h)" stroke="#2a2a2a" stroke-width="0.6"/>
<polyline points="182.5,522.5 173.7,533.7 182.5,539" fill="none" stroke="#2a2a2a" stroke-width="0.7"/>
<rect x="183.8" y="556" width="5.7" height="6" fill="url(#h)" stroke="#2a2a2a" stroke-width="0.6"/>
<rect x="183.8" y="580" width="5.7" height="6" fill="url(#h)" stroke="#2a2a2a" stroke-width="0.6"/>
<polyline points="183.8,542 255.8,542" fill="none" stroke="#6a6a6a" stroke-width="0.8" stroke-dasharray="3.2 2"/>
<polyline points="256.3,548.3 256.3,618.7 284.5,618.7" fill="none" stroke="#6a6a6a" stroke-width="0.8" stroke-dasharray="3.2 2"/>
<rect x="255.8" y="494.2" width="87" height="2.5" fill="url(#h)" stroke="#2a2a2a" stroke-width="0.6"/>
<rect x="255.8" y="496.7" width="2.5" height="15.8" fill="url(#h)" stroke="#2a2a2a" stroke-width="0.6"/>
<rect x="255.8" y="527.5" width="2.5" height="20.8" fill="url(#h)" stroke="#2a2a2a" stroke-width="0.6"/>
<polyline points="256.5,512.5 250,517.5 256.8,527.5" fill="none" stroke="#2a2a2a" stroke-width="0.7"/>
<rect x="255.8" y="542.5" width="4.2" height="5.8" fill="url(#h)" stroke="#2a2a2a" stroke-width="0.6"/>
<rect x="255.8" y="545.8" width="87" height="2.5" fill="url(#h)" stroke="#2a2a2a" stroke-width="0.6"/>
<rect x="261.8" y="548.3" width="28.2" height="12.2" fill="url(#h)" stroke="#2a2a2a" stroke-width="0.6"/>
<rect x="263.6" y="550.1" width="24.6" height="8.6" fill="#fff" stroke="#2a2a2a" stroke-width="0.5"/>
<polygon points="263.6,550.1 288.2,550.1 264.9,551.9 264.5,558.7 263.6,558.7" fill="#000" stroke="#000" stroke-width="0.3"/>
<rect x="290" y="548.3" width="7.4" height="12.2" fill="#fff" stroke="#2a2a2a" stroke-width="0.6"/>
<rect x="289.2" y="530" width="8.2" height="15.8" fill="url(#h)" stroke="#2a2a2a" stroke-width="0.6"/>
<rect x="291" y="531.8" width="4.6" height="12.2" fill="#fff" stroke="#2a2a2a" stroke-width="0.5"/>
<polygon points="291,531.8 295.6,531.8 292.3,533.6 291.9,544 291,544" fill="#000" stroke="#000" stroke-width="0.3"/>
<rect x="340.6" y="496.7" width="2.2" height="15.8" fill="url(#h)" stroke="#2a2a2a" stroke-width="0.6"/>
<rect x="340.6" y="527.5" width="2.2" height="20.8" fill="url(#h)" stroke="#2a2a2a" stroke-width="0.6"/>
<rect x="342.5" y="502.5" width="4.2" height="5.8" fill="url(#h)" stroke="#2a2a2a" stroke-width="0.6"/>
<polyline points="342,512.5 349.5,517.5 341.8,527.5" fill="none" stroke="#2a2a2a" stroke-width="0.7"/>
<rect x="309.2" y="548.3" width="29" height="12.2" fill="url(#h)" stroke="#2a2a2a" stroke-width="0.6"/>
<rect x="311" y="550.1" width="25.4" height="8.6" fill="#fff" stroke="#2a2a2a" stroke-width="0.5"/>
<polygon points="311,550.1 336.4,550.1 312.3,551.9 311.9,558.7 311,558.7" fill="#000" stroke="#000" stroke-width="0.3"/>
<rect x="301.9" y="548.3" width="7.3" height="12.2" fill="#fff" stroke="#2a2a2a" stroke-width="0.6"/>
<rect x="301.9" y="530" width="8.1" height="15.8" fill="url(#h)" stroke="#2a2a2a" stroke-width="0.6"/>
<rect x="303.7" y="531.8" width="4.5" height="12.2" fill="#fff" stroke="#2a2a2a" stroke-width="0.5"/>
<polygon points="303.7,531.8 308.2,531.8 305,533.6 304.6,544 303.7,544" fill="#000" stroke="#000" stroke-width="0.3"/>
<polyline points="342.8,542 415.5,542" fill="none" stroke="#6a6a6a" stroke-width="0.8" stroke-dasharray="3.2 2"/>
<polyline points="343.2,548.3 343.2,618.7 315.5,618.7" fill="none" stroke="#6a6a6a" stroke-width="0.8" stroke-dasharray="3.2 2"/>
<rect x="415.5" y="504.6" width="2.5" height="17.9" fill="url(#h)" stroke="#2a2a2a" stroke-width="0.6"/>
<rect x="415.5" y="540" width="2.5" height="112.5" fill="url(#h)" stroke="#2a2a2a" stroke-width="0.6"/>
<polyline points="416.7,522.5 427.5,532.5 416.7,539" fill="none" stroke="#2a2a2a" stroke-width="0.7"/>
<rect x="410" y="556" width="5.5" height="6" fill="url(#h)" stroke="#2a2a2a" stroke-width="0.6"/>
<rect x="410" y="580" width="5.5" height="6" fill="url(#h)" stroke="#2a2a2a" stroke-width="0.6"/>
<rect x="482.3" y="504.6" width="4.7" height="140.4" fill="url(#h)" stroke="#2a2a2a" stroke-width="0.6"/>
<rect x="178.3" y="614.7" width="4.7" height="42" fill="url(#h)" stroke="#2a2a2a" stroke-width="0.6"/>
<rect x="168.3" y="614.7" width="14.7" height="3.6" fill="url(#h)" stroke="#2a2a2a" stroke-width="0.6"/>
<rect x="119.2" y="614.7" width="10.8" height="3.6" fill="url(#h)" stroke="#2a2a2a" stroke-width="0.6"/>
<rect x="178.3" y="652" width="36.4" height="4.7" fill="url(#h)" stroke="#2a2a2a" stroke-width="0.6"/>
<rect x="183" y="647.3" width="31.7" height="4.7" fill="url(#h)" stroke="#2a2a2a" stroke-width="0.6"/>
<rect x="214.7" y="652" width="41.9" height="4.7" fill="#fff" stroke="#2a2a2a" stroke-width="0.5"/>
<line x1="214.7" y1="657.7" x2="256.6" y2="657.7" stroke="#555" stroke-width="1.4"/>
<rect x="213.8" y="656.5" width="1.8" height="2.4" fill="#111"/>
<rect x="255.7" y="656.5" width="1.8" height="2.4" fill="#111"/>
<rect x="256.6" y="652" width="5.7" height="7" fill="#fff" stroke="#2a2a2a" stroke-width="0.5"/>
<rect x="262.3" y="652" width="21.5" height="4.7" fill="#fff" stroke="#2a2a2a" stroke-width="0.5"/>
<line x1="262.3" y1="657.7" x2="283.8" y2="657.7" stroke="#555" stroke-width="1.4"/>
<rect x="261.4" y="656.5" width="1.8" height="2.4" fill="#111"/>
<rect x="282.9" y="656.5" width="1.8" height="2.4" fill="#111"/>
<rect x="315.5" y="652" width="20.8" height="4.7" fill="#fff" stroke="#2a2a2a" stroke-width="0.5"/>
<line x1="315.5" y1="657.7" x2="336.3" y2="657.7" stroke="#555" stroke-width="1.4"/>
<rect x="314.6" y="656.5" width="1.8" height="2.4" fill="#111"/>
<rect x="335.4" y="656.5" width="1.8" height="2.4" fill="#111"/>
<rect x="336.3" y="652" width="5.7" height="7" fill="#fff" stroke="#2a2a2a" stroke-width="0.5"/>
<rect x="342" y="652" width="43" height="4.7" fill="#fff" stroke="#2a2a2a" stroke-width="0.5"/>
<line x1="342" y1="657.7" x2="385" y2="657.7" stroke="#555" stroke-width="1.4"/>
<rect x="341.1" y="656.5" width="1.8" height="2.4" fill="#111"/>
<rect x="384.1" y="656.5" width="1.8" height="2.4" fill="#111"/>
<rect x="385" y="647.3" width="30.8" height="4.7" fill="url(#h)" stroke="#2a2a2a" stroke-width="0.6"/>
<rect x="385" y="652" width="35.8" height="4.7" fill="url(#h)" stroke="#2a2a2a" stroke-width="0.6"/>
<rect x="415.8" y="614.7" width="5" height="42" fill="url(#h)" stroke="#2a2a2a" stroke-width="0.6"/>
<rect x="415.8" y="614.7" width="18.4" height="3.6" fill="url(#h)" stroke="#2a2a2a" stroke-width="0.6"/>
<rect x="471.3" y="614.7" width="15.4" height="3.6" fill="url(#h)" stroke="#2a2a2a" stroke-width="0.6"/>
<polygon points="122.4,620.8 175.8,620.8 175.8,643 122.4,643" fill="none" stroke="#2a2a2a" stroke-width="0.6"/>
<line x1="147.5" y1="619.7" x2="168.3" y2="619.7" stroke="#666" stroke-width="1.6"/>
<circle cx="147.5" cy="619.7" r="1.1" fill="#111"/>
<circle cx="168.3" cy="619.7" r="1.1" fill="#111"/>
<circle cx="434.2" cy="619.7" r="1.1" fill="#111"/>
<circle cx="455" cy="619.7" r="1.1" fill="#111"/>
<polyline points="131,616 133.3,610.8 147.5,619" fill="none" stroke="#2a2a2a" stroke-width="0.7"/>
<polygon points="482.3,620.8 422.7,620.8 422.7,643 482.3,643" fill="none" stroke="#2a2a2a" stroke-width="0.6"/>
<line x1="434.2" y1="619.7" x2="455" y2="619.7" stroke="#666" stroke-width="1.6"/>
<polyline points="455,619.5 469.2,610.3 471.3,614.5" fill="none" stroke="#2a2a2a" stroke-width="0.7"/>
<rect x="45" y="509.2" width="4.8" height="17.8" fill="url(#h)" stroke="#2a2a2a" stroke-width="0.6"/>
<rect x="44.4" y="550" width="5.4" height="24" fill="url(#h)" stroke="#2a2a2a" stroke-width="0.6"/>
<rect x="44.4" y="527" width="5.4" height="23" fill="#fff" stroke="#2a2a2a" stroke-width="0.5"/>
<line x1="43.6" y1="527" x2="43.6" y2="550" stroke="#555" stroke-width="1.4"/>
<rect x="42.4" y="526.1" width="2.4" height="1.8" fill="#111"/>
<rect x="42.4" y="549.1" width="2.4" height="1.8" fill="#111"/>
<rect x="44.4" y="573.5" width="5.4" height="56" fill="#fff" stroke="#2a2a2a" stroke-width="0.5"/>
<line x1="43.6" y1="573.5" x2="43.6" y2="629.5" stroke="#555" stroke-width="1.4"/>
<rect x="42.4" y="572.6" width="2.4" height="1.8" fill="#111"/>
<rect x="42.4" y="628.6" width="2.4" height="1.8" fill="#111"/>
<polygon points="44.4,629 59.4,629 59.4,638 55,638 55,642.7 44.4,642.7" fill="url(#h)" stroke="#2a2a2a" stroke-width="0.6"/>
<rect x="44.4" y="638" width="14.6" height="5.5" fill="url(#h)" stroke="#2a2a2a" stroke-width="0.6"/>
<rect x="59.5" y="643.6" width="55" height="0.8" fill="#fff" stroke="#2a2a2a" stroke-width="0.5"/>
<line x1="59.5" y1="645.6" x2="114.5" y2="645.6" stroke="#555" stroke-width="1.4"/>
<rect x="58.6" y="644.4" width="1.8" height="2.4" fill="#111"/>
<rect x="113.6" y="644.4" width="1.8" height="2.4" fill="#111"/>
<rect x="553" y="509.2" width="4.6" height="17.8" fill="url(#h)" stroke="#2a2a2a" stroke-width="0.6"/>
<rect x="553" y="550" width="4.6" height="24" fill="url(#h)" stroke="#2a2a2a" stroke-width="0.6"/>
<rect x="553" y="527" width="4.6" height="23" fill="#fff" stroke="#2a2a2a" stroke-width="0.5"/>
<line x1="558.4" y1="527" x2="558.4" y2="550" stroke="#555" stroke-width="1.4"/>
<rect x="557.2" y="526.1" width="2.4" height="1.8" fill="#111"/>
<rect x="557.2" y="549.1" width="2.4" height="1.8" fill="#111"/>
<rect x="553" y="573.5" width="4.6" height="56" fill="#fff" stroke="#2a2a2a" stroke-width="0.5"/>
<line x1="558.4" y1="573.5" x2="558.4" y2="629.5" stroke="#555" stroke-width="1.4"/>
<rect x="557.2" y="572.6" width="2.4" height="1.8" fill="#111"/>
<rect x="557.2" y="628.6" width="2.4" height="1.8" fill="#111"/>
<polygon points="557.6,629 544.5,629 544.5,638 548.5,638 548.5,642.7 557.6,642.7" fill="url(#h)" stroke="#2a2a2a" stroke-width="0.6"/>
<rect x="544" y="638" width="13.6" height="5.5" fill="url(#h)" stroke="#2a2a2a" stroke-width="0.6"/>
<rect x="487" y="643.6" width="57" height="0.8" fill="#fff" stroke="#2a2a2a" stroke-width="0.5"/>
<line x1="487" y1="645.6" x2="544" y2="645.6" stroke="#555" stroke-width="1.4"/>
<rect x="486.1" y="644.4" width="1.8" height="2.4" fill="#111"/>
<rect x="543.1" y="644.4" width="1.8" height="2.4" fill="#111"/>
<rect x="255.7" y="171" width="11.8" height="45" fill="#fff" stroke="#2a2a2a" stroke-width="0.6"/>
<rect x="256.8" y="172.2" width="9.9" height="10.5" fill="#fff" stroke="#2a2a2a" stroke-width="0.5"/>
<rect x="257.4" y="172.8" width="3.9" height="4.2" fill="url(#g)" stroke="#333" stroke-width="0.4"/>
<rect x="257.4" y="177.9" width="3.9" height="4.2" fill="url(#g)" stroke="#333" stroke-width="0.4"/>
<rect x="262.2" y="172.8" width="3.9" height="4.2" fill="url(#g)" stroke="#333" stroke-width="0.4"/>
<rect x="262.2" y="177.9" width="3.9" height="4.2" fill="url(#g)" stroke="#333" stroke-width="0.4"/>
<line x1="255.7" y1="184.8" x2="267.5" y2="184.8" stroke="#2a2a2a" stroke-width="0.5"/>
<line x1="256.5" y1="198.6" x2="266.7" y2="198.6" stroke="#444" stroke-width="0.9"/>
<line x1="256.5" y1="200.4" x2="266.7" y2="200.4" stroke="#444" stroke-width="0.9"/>
<line x1="256.5" y1="202.2" x2="266.7" y2="202.2" stroke="#444" stroke-width="0.9"/>
<line x1="256.5" y1="204" x2="266.7" y2="204" stroke="#444" stroke-width="0.9"/>
<rect x="256.6" y="207" width="10" height="8.5" rx="2" fill="#fff" stroke="#2a2a2a" stroke-width="0.6"/>
<rect x="331.5" y="171" width="12.5" height="45" fill="#fff" stroke="#2a2a2a" stroke-width="0.6"/>
<rect x="332.7" y="172.2" width="10" height="10.5" fill="#fff" stroke="#2a2a2a" stroke-width="0.5"/>
<rect x="333.3" y="172.8" width="3.95" height="4.2" fill="url(#g)" stroke="#333" stroke-width="0.4"/>
<rect x="333.3" y="177.9" width="3.95" height="4.2" fill="url(#g)" stroke="#333" stroke-width="0.4"/>
<rect x="338.15" y="172.8" width="3.95" height="4.2" fill="url(#g)" stroke="#333" stroke-width="0.4"/>
<rect x="338.15" y="177.9" width="3.95" height="4.2" fill="url(#g)" stroke="#333" stroke-width="0.4"/>
<line x1="331.5" y1="184.8" x2="344" y2="184.8" stroke="#2a2a2a" stroke-width="0.5"/>
<line x1="332.5" y1="198.6" x2="343" y2="198.6" stroke="#444" stroke-width="0.9"/>
<line x1="332.5" y1="200.4" x2="343" y2="200.4" stroke="#444" stroke-width="0.9"/>
<line x1="332.5" y1="202.2" x2="343" y2="202.2" stroke="#444" stroke-width="0.9"/>
<line x1="332.5" y1="204" x2="343" y2="204" stroke="#444" stroke-width="0.9"/>
<rect x="332.5" y="207" width="10" height="8.5" rx="2" fill="#fff" stroke="#2a2a2a" stroke-width="0.6"/>
<rect x="216" y="218.5" width="12" height="4.5" fill="#fff" stroke="#2a2a2a" stroke-width="0.7"/>
<ellipse cx="222" cy="228.5" rx="5" ry="6" fill="#fff" stroke="#2a2a2a" stroke-width="0.8"/>
<path d="M234.7,219.5 h12.6 v5 a6.3,5 0 0 1 -12.6,0 z" fill="#fff" stroke="#2a2a2a" stroke-width="0.7"/>
<path d="M236.4,221.5 h9.2 v2.6 a4.6,3.6 0 0 1 -9.2,0 z" fill="#fff" stroke="#2a2a2a" stroke-width="0.5"/>
<circle cx="241" cy="220.9" r="0.7" fill="#111"/>
<rect x="253.4" y="219" width="13.8" height="32.3" fill="#fff" stroke="#2a2a2a" stroke-width="0.7"/>
<rect x="255" y="220.6" width="10.6" height="29.1" rx="5.24" fill="#fff" stroke="#2a2a2a" stroke-width="0.6"/>
<circle cx="260.3" cy="224" r="0.7" fill="#111"/>
<rect x="240.5" y="240" width="12.9" height="12.5" fill="#fff" stroke="#2a2a2a" stroke-width="0.7"/>
<rect x="330.5" y="231" width="4.5" height="12" fill="#fff" stroke="#2a2a2a" stroke-width="0.7"/>
<ellipse cx="340.5" cy="237" rx="6" ry="5" fill="#fff" stroke="#2a2a2a" stroke-width="0.8"/>
<path d="M357.2,219.5 h12.6 v5 a6.3,5 0 0 1 -12.6,0 z" fill="#fff" stroke="#2a2a2a" stroke-width="0.7"/>
<path d="M358.9,221.5 h9.2 v2.6 a4.6,3.6 0 0 1 -9.2,0 z" fill="#fff" stroke="#2a2a2a" stroke-width="0.5"/>
<circle cx="363.5" cy="220.9" r="0.7" fill="#111"/>
<rect x="372.8" y="219" width="14" height="33.5" fill="#fff" stroke="#2a2a2a" stroke-width="0.7"/>
<rect x="374.4" y="220.6" width="10.8" height="30.3" rx="5.32" fill="#fff" stroke="#2a2a2a" stroke-width="0.6"/>
<circle cx="379.8" cy="224" r="0.7" fill="#111"/>
<rect x="375.7" y="252.5" width="11.1" height="11.7" fill="none" stroke="#2a2a2a" stroke-width="0.6"/>
<rect x="174" y="359" width="13" height="11.7" fill="#fff" stroke="#2a2a2a" stroke-width="0.7"/>
<rect x="174.5" y="371.5" width="14" height="32.5" fill="#fff" stroke="#2a2a2a" stroke-width="0.7"/>
<rect x="176.1" y="373.1" width="10.8" height="29.3" rx="5.32" fill="#fff" stroke="#2a2a2a" stroke-width="0.6"/>
<circle cx="181.5" cy="399" r="0.7" fill="#111"/>
<path d="M191.2,404.5 h12.6 v-5 a6.3,5 0 0 0 -12.6,0 z" fill="#fff" stroke="#2a2a2a" stroke-width="0.7"/>
<path d="M192.9,402.5 h9.2 v-2.6 a4.6,3.6 0 0 0 -9.2,0 z" fill="#fff" stroke="#2a2a2a" stroke-width="0.5"/>
<circle cx="197.5" cy="403.1" r="0.7" fill="#111"/>
<rect x="208" y="400" width="12" height="4.5" fill="#fff" stroke="#2a2a2a" stroke-width="0.7"/>
<ellipse cx="214" cy="394.5" rx="5" ry="6" fill="#fff" stroke="#2a2a2a" stroke-width="0.8"/>
<rect x="125.6" y="393.8" width="12.9" height="10" fill="#fff" stroke="#2a2a2a" stroke-width="0.5"/>
<rect x="126.2" y="394.4" width="5.4" height="3.95" fill="url(#g)" stroke="#333" stroke-width="0.4"/>
<rect x="126.2" y="399.25" width="5.4" height="3.95" fill="url(#g)" stroke="#333" stroke-width="0.4"/>
<rect x="132.5" y="394.4" width="5.4" height="3.95" fill="url(#g)" stroke="#333" stroke-width="0.4"/>
<rect x="132.5" y="399.25" width="5.4" height="3.95" fill="url(#g)" stroke="#333" stroke-width="0.4"/>
<line x1="125.6" y1="392.6" x2="125.6" y2="404.6" stroke="#2a2a2a" stroke-width="0.5"/>
<line x1="138.5" y1="392.6" x2="138.5" y2="404.6" stroke="#2a2a2a" stroke-width="0.5"/>
<line x1="150" y1="392.6" x2="150" y2="404.6" stroke="#2a2a2a" stroke-width="0.5"/>
<line x1="152" y1="393.8" x2="152" y2="403.8" stroke="#444" stroke-width="1"/>
<line x1="153.8" y1="393.8" x2="153.8" y2="403.8" stroke="#444" stroke-width="1"/>
<line x1="155.6" y1="393.8" x2="155.6" y2="403.8" stroke="#444" stroke-width="1"/>
<line x1="157.4" y1="393.8" x2="157.4" y2="403.8" stroke="#444" stroke-width="1"/>
<line x1="159.2" y1="393.8" x2="159.2" y2="403.8" stroke="#444" stroke-width="1"/>
<rect x="161.3" y="393.8" width="8.7" height="10" rx="1.8" fill="#fff" stroke="#2a2a2a" stroke-width="0.6"/>
<line x1="169" y1="402.8" x2="166.4" y2="400.2" stroke="#111" stroke-width="1.1"/>
<rect x="125.6" y="410.6" width="12.9" height="10" fill="#fff" stroke="#2a2a2a" stroke-width="0.5"/>
<rect x="126.2" y="411.2" width="5.4" height="3.95" fill="url(#g)" stroke="#333" stroke-width="0.4"/>
<rect x="126.2" y="416.05" width="5.4" height="3.95" fill="url(#g)" stroke="#333" stroke-width="0.4"/>
<rect x="132.5" y="411.2" width="5.4" height="3.95" fill="url(#g)" stroke="#333" stroke-width="0.4"/>
<rect x="132.5" y="416.05" width="5.4" height="3.95" fill="url(#g)" stroke="#333" stroke-width="0.4"/>
<line x1="125.6" y1="409.4" x2="125.6" y2="421.4" stroke="#2a2a2a" stroke-width="0.5"/>
<line x1="138.5" y1="409.4" x2="138.5" y2="421.4" stroke="#2a2a2a" stroke-width="0.5"/>
<line x1="150" y1="409.4" x2="150" y2="421.4" stroke="#2a2a2a" stroke-width="0.5"/>
<line x1="152" y1="410.6" x2="152" y2="420.6" stroke="#444" stroke-width="1"/>
<line x1="153.8" y1="410.6" x2="153.8" y2="420.6" stroke="#444" stroke-width="1"/>
<line x1="155.6" y1="410.6" x2="155.6" y2="420.6" stroke="#444" stroke-width="1"/>
<line x1="157.4" y1="410.6" x2="157.4" y2="420.6" stroke="#444" stroke-width="1"/>
<line x1="159.2" y1="410.6" x2="159.2" y2="420.6" stroke="#444" stroke-width="1"/>
<rect x="161.3" y="410.6" width="8.7" height="10" rx="1.8" fill="#fff" stroke="#2a2a2a" stroke-width="0.6"/>
<line x1="169" y1="411.6" x2="166.4" y2="414.2" stroke="#111" stroke-width="1.1"/>
<rect x="175" y="409.5" width="14" height="33" fill="#fff" stroke="#2a2a2a" stroke-width="0.7"/>
<rect x="176.6" y="411.1" width="10.8" height="29.8" rx="5.32" fill="#fff" stroke="#2a2a2a" stroke-width="0.6"/>
<circle cx="182" cy="414.5" r="0.7" fill="#111"/>
<path d="M191.2,409.3 h12.6 v5 a6.3,5 0 0 1 -12.6,0 z" fill="#fff" stroke="#2a2a2a" stroke-width="0.7"/>
<path d="M192.9,411.3 h9.2 v2.6 a4.6,3.6 0 0 1 -9.2,0 z" fill="#fff" stroke="#2a2a2a" stroke-width="0.5"/>
<circle cx="197.5" cy="410.7" r="0.7" fill="#111"/>
<rect x="208" y="409.5" width="12" height="4.5" fill="#fff" stroke="#2a2a2a" stroke-width="0.7"/>
<ellipse cx="214" cy="419.5" rx="5" ry="6" fill="#fff" stroke="#2a2a2a" stroke-width="0.8"/>
<rect x="209.5" y="434" width="14.5" height="12.2" fill="#fff" stroke="#2a2a2a" stroke-width="0.7"/>
<rect x="410" y="356" width="14" height="13.5" fill="#fff" stroke="#2a2a2a" stroke-width="0.7"/>
<rect x="410" y="370" width="14" height="34" fill="#fff" stroke="#2a2a2a" stroke-width="0.7"/>
<rect x="411.6" y="371.6" width="10.8" height="30.8" rx="5.32" fill="#fff" stroke="#2a2a2a" stroke-width="0.6"/>
<circle cx="417" cy="399" r="0.7" fill="#111"/>
<path d="M393.7,404.5 h12.6 v-5 a6.3,5 0 0 0 -12.6,0 z" fill="#fff" stroke="#2a2a2a" stroke-width="0.7"/>
<path d="M395.4,402.5 h9.2 v-2.6 a4.6,3.6 0 0 0 -9.2,0 z" fill="#fff" stroke="#2a2a2a" stroke-width="0.5"/>
<circle cx="400" cy="403.1" r="0.7" fill="#111"/>
<rect x="379" y="400" width="12" height="4.5" fill="#fff" stroke="#2a2a2a" stroke-width="0.7"/>
<ellipse cx="385" cy="394.5" rx="5" ry="6" fill="#fff" stroke="#2a2a2a" stroke-width="0.8"/>
<rect x="460.6" y="393.2" width="11.3" height="10" fill="#fff" stroke="#2a2a2a" stroke-width="0.5"/>
<rect x="461.2" y="393.8" width="4.6" height="3.95" fill="url(#g)" stroke="#333" stroke-width="0.4"/>
<rect x="461.2" y="398.65" width="4.6" height="3.95" fill="url(#g)" stroke="#333" stroke-width="0.4"/>
<rect x="466.7" y="393.8" width="4.6" height="3.95" fill="url(#g)" stroke="#333" stroke-width="0.4"/>
<rect x="466.7" y="398.65" width="4.6" height="3.95" fill="url(#g)" stroke="#333" stroke-width="0.4"/>
<line x1="447.5" y1="392" x2="447.5" y2="404" stroke="#2a2a2a" stroke-width="0.5"/>
<line x1="459.4" y1="392" x2="459.4" y2="404" stroke="#2a2a2a" stroke-width="0.5"/>
<line x1="471.9" y1="392" x2="471.9" y2="404" stroke="#2a2a2a" stroke-width="0.5"/>
<line x1="438.8" y1="393.2" x2="438.8" y2="403.2" stroke="#444" stroke-width="1"/>
<line x1="440.6" y1="393.2" x2="440.6" y2="403.2" stroke="#444" stroke-width="1"/>
<line x1="442.4" y1="393.2" x2="442.4" y2="403.2" stroke="#444" stroke-width="1"/>
<line x1="444.2" y1="393.2" x2="444.2" y2="403.2" stroke="#444" stroke-width="1"/>
<rect x="428" y="393.2" width="7.6" height="10" rx="1.8" fill="#fff" stroke="#2a2a2a" stroke-width="0.6"/>
<line x1="429" y1="402.2" x2="431.6" y2="399.6" stroke="#111" stroke-width="1.1"/>
<rect x="460.6" y="410.6" width="11.3" height="10" fill="#fff" stroke="#2a2a2a" stroke-width="0.5"/>
<rect x="461.2" y="411.2" width="4.6" height="3.95" fill="url(#g)" stroke="#333" stroke-width="0.4"/>
<rect x="461.2" y="416.05" width="4.6" height="3.95" fill="url(#g)" stroke="#333" stroke-width="0.4"/>
<rect x="466.7" y="411.2" width="4.6" height="3.95" fill="url(#g)" stroke="#333" stroke-width="0.4"/>
<rect x="466.7" y="416.05" width="4.6" height="3.95" fill="url(#g)" stroke="#333" stroke-width="0.4"/>
<line x1="447.5" y1="409.4" x2="447.5" y2="421.4" stroke="#2a2a2a" stroke-width="0.5"/>
<line x1="459.4" y1="409.4" x2="459.4" y2="421.4" stroke="#2a2a2a" stroke-width="0.5"/>
<line x1="471.9" y1="409.4" x2="471.9" y2="421.4" stroke="#2a2a2a" stroke-width="0.5"/>
<line x1="438.8" y1="410.6" x2="438.8" y2="420.6" stroke="#444" stroke-width="1"/>
<line x1="440.6" y1="410.6" x2="440.6" y2="420.6" stroke="#444" stroke-width="1"/>
<line x1="442.4" y1="410.6" x2="442.4" y2="420.6" stroke="#444" stroke-width="1"/>
<line x1="444.2" y1="410.6" x2="444.2" y2="420.6" stroke="#444" stroke-width="1"/>
<rect x="428" y="410.6" width="7.6" height="10" rx="1.8" fill="#fff" stroke="#2a2a2a" stroke-width="0.6"/>
<line x1="429" y1="411.6" x2="431.6" y2="414.2" stroke="#111" stroke-width="1.1"/>
<rect x="410" y="409.5" width="14" height="33" fill="#fff" stroke="#2a2a2a" stroke-width="0.7"/>
<rect x="411.6" y="411.1" width="10.8" height="29.8" rx="5.32" fill="#fff" stroke="#2a2a2a" stroke-width="0.6"/>
<circle cx="417" cy="414.5" r="0.7" fill="#111"/>
<path d="M393.7,409.3 h12.6 v5 a6.3,5 0 0 1 -12.6,0 z" fill="#fff" stroke="#2a2a2a" stroke-width="0.7"/>
<path d="M395.4,411.3 h9.2 v2.6 a4.6,3.6 0 0 1 -9.2,0 z" fill="#fff" stroke="#2a2a2a" stroke-width="0.5"/>
<circle cx="400" cy="410.7" r="0.7" fill="#111"/>
<rect x="379" y="409.5" width="12" height="4.5" fill="#fff" stroke="#2a2a2a" stroke-width="0.7"/>
<ellipse cx="385" cy="419.5" rx="5" ry="6" fill="#fff" stroke="#2a2a2a" stroke-width="0.8"/>
<rect x="376" y="434" width="13" height="12.2" fill="#fff" stroke="#2a2a2a" stroke-width="0.7"/>
<rect x="262.5" y="497.5" width="33.3" height="13.3" fill="#fff" stroke="#2a2a2a" stroke-width="0.7"/>
<rect x="264.1" y="499.1" width="30.1" height="10.1" rx="5.05" fill="#fff" stroke="#2a2a2a" stroke-width="0.6"/>
<circle cx="290.8" cy="504.15" r="0.7" fill="#111"/>
<path d="M297.4,512.4 v12.6 h-5 a5,6.3 0 0 1 0,-12.6 z" fill="#fff" stroke="#2a2a2a" stroke-width="0.7"/>
<circle cx="296" cy="518.7" r="0.7" fill="#111"/>
<rect x="274.4" y="542.2" width="12" height="4.5" fill="#fff" stroke="#2a2a2a" stroke-width="0.7"/>
<ellipse cx="280.4" cy="536.7" rx="5" ry="6" fill="#fff" stroke="#2a2a2a" stroke-width="0.8"/>
<rect x="258.3" y="529.2" width="11.7" height="13.3" fill="#fff" stroke="#2a2a2a" stroke-width="0.7"/>
<rect x="284.5" y="560.9" width="12.9" height="57.8" fill="#fff" stroke="#2a2a2a" stroke-width="0.6"/>
<rect x="285.5" y="561.8" width="10.9" height="9.5" rx="2" fill="#fff" stroke="#2a2a2a" stroke-width="0.6"/>
<circle cx="294.5" cy="563.6" r="0.8" fill="#111"/>
<line x1="285.5" y1="574" x2="296.4" y2="574" stroke="#444" stroke-width="0.9"/>
<line x1="285.5" y1="575.8" x2="296.4" y2="575.8" stroke="#444" stroke-width="0.9"/>
<line x1="285.5" y1="577.6" x2="296.4" y2="577.6" stroke="#444" stroke-width="0.9"/>
<line x1="285.5" y1="579.4" x2="296.4" y2="579.4" stroke="#444" stroke-width="0.9"/>
<line x1="284.5" y1="582" x2="297.4" y2="582" stroke="#2a2a2a" stroke-width="0.5"/>
<line x1="284.5" y1="593.3" x2="297.4" y2="593.3" stroke="#2a2a2a" stroke-width="0.5"/>
<line x1="284.5" y1="607.6" x2="297.4" y2="607.6" stroke="#2a2a2a" stroke-width="0.5"/>
<rect x="285.7" y="595" width="10.5" height="11" fill="#fff" stroke="#2a2a2a" stroke-width="0.5"/>
<rect x="286.3" y="595.6" width="4.2" height="4.45" fill="url(#g)" stroke="#333" stroke-width="0.4"/>
<rect x="286.3" y="600.95" width="4.2" height="4.45" fill="url(#g)" stroke="#333" stroke-width="0.4"/>
<rect x="291.4" y="595.6" width="4.2" height="4.45" fill="url(#g)" stroke="#333" stroke-width="0.4"/>
<rect x="291.4" y="600.95" width="4.2" height="4.45" fill="url(#g)" stroke="#333" stroke-width="0.4"/>
<rect x="303" y="497.5" width="33.7" height="13.3" fill="#fff" stroke="#2a2a2a" stroke-width="0.7"/>
<rect x="304.6" y="499.1" width="30.5" height="10.1" rx="5.05" fill="#fff" stroke="#2a2a2a" stroke-width="0.6"/>
<circle cx="308" cy="504.15" r="0.7" fill="#111"/>
<path d="M301.9,512.4 v12.6 h5 a5,6.3 0 0 0 0,-12.6 z" fill="#fff" stroke="#2a2a2a" stroke-width="0.7"/>
<circle cx="303.3" cy="518.7" r="0.7" fill="#111"/>
<rect x="313.2" y="542.2" width="12" height="4.5" fill="#fff" stroke="#2a2a2a" stroke-width="0.7"/>
<ellipse cx="319.2" cy="536.7" rx="5" ry="6" fill="#fff" stroke="#2a2a2a" stroke-width="0.8"/>
<rect x="329.2" y="532.5" width="11.4" height="13" fill="#fff" stroke="#2a2a2a" stroke-width="0.7"/>
<rect x="301.9" y="560.9" width="13.6" height="57.8" fill="#fff" stroke="#2a2a2a" stroke-width="0.6"/>
<rect x="302.9" y="561.8" width="11.6" height="9.5" rx="2" fill="#fff" stroke="#2a2a2a" stroke-width="0.6"/>
<circle cx="304.8" cy="563.6" r="0.8" fill="#111"/>
<line x1="302.9" y1="574" x2="314.5" y2="574" stroke="#444" stroke-width="0.9"/>
<line x1="302.9" y1="575.8" x2="314.5" y2="575.8" stroke="#444" stroke-width="0.9"/>
<line x1="302.9" y1="577.6" x2="314.5" y2="577.6" stroke="#444" stroke-width="0.9"/>
<line x1="302.9" y1="579.4" x2="314.5" y2="579.4" stroke="#444" stroke-width="0.9"/>
<line x1="301.9" y1="582" x2="315.5" y2="582" stroke="#2a2a2a" stroke-width="0.5"/>
<line x1="301.9" y1="593.3" x2="315.5" y2="593.3" stroke="#2a2a2a" stroke-width="0.5"/>
<line x1="301.9" y1="607.6" x2="315.5" y2="607.6" stroke="#2a2a2a" stroke-width="0.5"/>
<rect x="303.1" y="595" width="11.2" height="11" fill="#fff" stroke="#2a2a2a" stroke-width="0.5"/>
<rect x="303.7" y="595.6" width="4.55" height="4.45" fill="url(#g)" stroke="#333" stroke-width="0.4"/>
<rect x="303.7" y="600.95" width="4.55" height="4.45" fill="url(#g)" stroke="#333" stroke-width="0.4"/>
<rect x="309.15" y="595.6" width="4.55" height="4.45" fill="url(#g)" stroke="#333" stroke-width="0.4"/>
<rect x="309.15" y="600.95" width="4.55" height="4.45" fill="url(#g)" stroke="#333" stroke-width="0.4"/>
<text transform="translate(149.5,211.9) scale(1.13,1)" font-size="8.3" font-weight="bold" text-anchor="middle" fill="#000">20.9</text>
<text transform="translate(212,200.5) scale(1.13,1)" font-size="8.3" font-weight="bold" text-anchor="middle" fill="#000">14.2</text>
<text transform="translate(398,200.2) scale(1.13,1)" font-size="8.3" font-weight="bold" text-anchor="middle" fill="#000">14.7</text>
<text transform="translate(459.8,219.9) scale(1.13,1)" font-size="8.3" font-weight="bold" text-anchor="middle" fill="#000">17.7</text>
<text transform="translate(226,248.1) scale(1.13,1)" font-size="8.3" font-weight="bold" text-anchor="middle" fill="#000">5.0</text>
<text transform="translate(362,244.5) scale(1.13,1)" font-size="8.3" font-weight="bold" text-anchor="middle" fill="#000">5.2</text>
<text transform="translate(121,282.7) scale(1.13,1)" font-size="8.3" font-weight="bold" text-anchor="middle" fill="#000">12.3</text>
<text transform="translate(210.5,290.7) scale(1.13,1)" font-size="8.3" font-weight="bold" text-anchor="middle" fill="#000">10.9</text>
<text transform="translate(397,288.2) scale(1.13,1)" font-size="8.3" font-weight="bold" text-anchor="middle" fill="#000">11.2</text>
<text transform="translate(484.7,282.5) scale(1.13,1)" font-size="8.3" font-weight="bold" text-anchor="middle" fill="#000">12.4</text>
<text transform="translate(56.5,277.2) scale(1.13,1)" font-size="8.3" font-weight="bold" text-anchor="middle" fill="#000">2.3</text>
<text transform="translate(56.5,286.8) scale(1.13,1)" font-size="8.3" font-weight="bold" text-anchor="middle" fill="#000">(1.2)</text>
<text transform="translate(546.7,277.2) scale(1.13,1)" font-size="8.3" font-weight="bold" text-anchor="middle" fill="#000">2.3</text>
<text transform="translate(546.7,286.8) scale(1.13,1)" font-size="8.3" font-weight="bold" text-anchor="middle" fill="#000">(1.2)</text>
<text transform="translate(125.5,338.2) scale(1.13,1)" font-size="8.3" font-weight="bold" text-anchor="middle" fill="#000">19.5</text>
<text transform="translate(202.7,336.3) scale(1.13,1)" font-size="8.3" font-weight="bold" text-anchor="middle" fill="#000">5.7</text>
<text transform="translate(396,333.7) scale(1.13,1)" font-size="8.3" font-weight="bold" text-anchor="middle" fill="#000">5.0</text>
<text transform="translate(474.3,334) scale(1.13,1)" font-size="8.3" font-weight="bold" text-anchor="middle" fill="#000">19.3</text>
<text transform="translate(144.7,375.5) scale(1.13,1)" font-size="8.3" font-weight="bold" text-anchor="middle" fill="#000">6.5</text>
<text transform="translate(205.5,377.5) scale(1.13,1)" font-size="8.3" font-weight="bold" text-anchor="middle" fill="#000">5.1</text>
<text transform="translate(395.3,374) scale(1.13,1)" font-size="8.3" font-weight="bold" text-anchor="middle" fill="#000">5.7</text>
<text transform="translate(454.7,373.5) scale(1.13,1)" font-size="8.3" font-weight="bold" text-anchor="middle" fill="#000">7.1</text>
<text transform="translate(25.3,367.1) scale(1.13,1)" font-size="8.3" font-weight="bold" text-anchor="middle" fill="#000">4.4</text>
<text transform="translate(25.3,376.7) scale(1.13,1)" font-size="8.3" font-weight="bold" text-anchor="middle" fill="#000">(1.3)</text>
<text transform="translate(574.8,365.5) scale(1.13,1)" font-size="8.3" font-weight="bold" text-anchor="middle" fill="#000">4.5</text>
<text transform="translate(574.8,375.1) scale(1.13,1)" font-size="8.3" font-weight="bold" text-anchor="middle" fill="#000">(1.4)</text>
<text transform="translate(144.7,436.5) scale(1.13,1)" font-size="8.3" font-weight="bold" text-anchor="middle" fill="#000">5.3</text>
<text transform="translate(201,432.1) scale(1.13,1)" font-size="8.3" font-weight="bold" text-anchor="middle" fill="#000">4.2</text>
<text transform="translate(398,432.1) scale(1.13,1)" font-size="8.3" font-weight="bold" text-anchor="middle" fill="#000">4.2</text>
<text transform="translate(454.7,438.5) scale(1.13,1)" font-size="8.3" font-weight="bold" text-anchor="middle" fill="#000">5.3</text>
<text transform="translate(25.3,440.1) scale(1.13,1)" font-size="8.3" font-weight="bold" text-anchor="middle" fill="#000">4.4</text>
<text transform="translate(25.3,449.7) scale(1.13,1)" font-size="8.3" font-weight="bold" text-anchor="middle" fill="#000">(1.3)</text>
<text transform="translate(574.8,444) scale(1.13,1)" font-size="8.3" font-weight="bold" text-anchor="middle" fill="#000">4.5</text>
<text transform="translate(574.8,453.6) scale(1.13,1)" font-size="8.3" font-weight="bold" text-anchor="middle" fill="#000">(1.4)</text>
<text transform="translate(95.8,470.2) scale(1.13,1)" font-size="8.3" font-weight="bold" text-anchor="middle" fill="#000">20.4</text>
<text transform="translate(205,478.5) scale(1.13,1)" font-size="8.3" font-weight="bold" text-anchor="middle" fill="#000">6.5</text>
<text transform="translate(396.3,474) scale(1.13,1)" font-size="8.3" font-weight="bold" text-anchor="middle" fill="#000">6.5</text>
<text transform="translate(501.8,470.5) scale(1.13,1)" font-size="8.3" font-weight="bold" text-anchor="middle" fill="#000">21.0</text>
<text transform="translate(228.5,516.5) scale(1.13,1)" font-size="8.3" font-weight="bold" text-anchor="middle" fill="#000">11.7</text>
<text transform="translate(371,515) scale(1.13,1)" font-size="8.3" font-weight="bold" text-anchor="middle" fill="#000">11.8</text>
<text transform="translate(273.3,524) scale(1.13,1)" font-size="8.3" font-weight="bold" text-anchor="middle" fill="#000">4.2</text>
<text transform="translate(330.8,522.5) scale(1.13,1)" font-size="8.3" font-weight="bold" text-anchor="middle" fill="#000">4.2</text>
<text transform="translate(152.7,565) scale(1.13,1)" font-size="8.3" font-weight="bold" text-anchor="middle" fill="#000">15.4</text>
<text transform="translate(450.2,566.5) scale(1.13,1)" font-size="8.3" font-weight="bold" text-anchor="middle" fill="#000">15.8</text>
<text transform="translate(271.5,591.5) scale(1.13,1)" font-size="8.3" font-weight="bold" text-anchor="middle" fill="#000">5.7</text>
<text transform="translate(329,591.5) scale(1.13,1)" font-size="8.3" font-weight="bold" text-anchor="middle" fill="#000">5.5</text>
<text transform="translate(82.3,617.3) scale(1.13,1)" font-size="8.3" font-weight="bold" text-anchor="middle" fill="#000">19.9</text>
<text transform="translate(522.8,614.5) scale(1.13,1)" font-size="8.3" font-weight="bold" text-anchor="middle" fill="#000">20.3</text>
<text transform="translate(268.8,637.5) scale(1.13,1)" font-size="8.3" font-weight="bold" text-anchor="middle" fill="#000">20.6</text>
<text transform="translate(331.5,637.5) scale(1.13,1)" font-size="8.3" font-weight="bold" text-anchor="middle" fill="#000">20.7</text>
<text transform="translate(151.5,629.7) scale(1.13,1)" font-size="8.3" font-weight="bold" text-anchor="middle" fill="#000">2.5</text>
<text transform="translate(151.5,639.3) scale(1.13,1)" font-size="8.3" font-weight="bold" text-anchor="middle" fill="#000">(1.3)</text>
<text transform="translate(453,629.7) scale(1.13,1)" font-size="8.3" font-weight="bold" text-anchor="middle" fill="#000">2.6</text>
<text transform="translate(453,639.3) scale(1.13,1)" font-size="8.3" font-weight="bold" text-anchor="middle" fill="#000">(1.3)</text>
<path d="M69.95,175 H126.95 A3.2,3.2 0 0 1 130.15,178.2 V236.1 L126.75,239.5 H69.95 A3.2,3.2 0 0 1 66.75,236.3 V178.2 A3.2,3.2 0 0 1 69.95,175 Z" fill="#ec0000"/>
<text x="99.15" y="187.5" font-size="14.2" text-anchor="middle" fill="#fff" textLength="36.6" lengthAdjust="spacingAndGlyphs">№ 24</text>
<rect x="88.95" y="191.6" width="39.4" height="13.9" fill="#fff"/>
<text x="108.45" y="203.5" font-size="14.6" text-anchor="middle" fill="#ec0000" textLength="32.6" lengthAdjust="spacingAndGlyphs">33.2</text>
<rect x="88.95" y="207.6" width="39.4" height="13.9" fill="#fff"/>
<text x="108.45" y="219.5" font-size="14.6" text-anchor="middle" fill="#ec0000" textLength="32.6" lengthAdjust="spacingAndGlyphs">63.3</text>
<rect x="88.95" y="223.6" width="39.4" height="13.9" fill="#fff"/>
<text x="108.45" y="235.5" font-size="14.6" text-anchor="middle" fill="#ec0000" textLength="32.6" lengthAdjust="spacingAndGlyphs">64.5</text>
<text x="77.95" y="222.6" font-size="26.4" text-anchor="middle" fill="#fff" textLength="17.8" lengthAdjust="spacingAndGlyphs">2</text>
<path d="M474.95,179.6 H531.95 A3.2,3.2 0 0 1 535.15,182.8 V241.4 L531.75,244.8 H474.95 A3.2,3.2 0 0 1 471.75,241.6 V182.8 A3.2,3.2 0 0 1 474.95,179.6 Z" fill="#ec0000"/>
<text x="504.15" y="192.1" font-size="14.2" text-anchor="middle" fill="#fff" textLength="36.6" lengthAdjust="spacingAndGlyphs">№ 17</text>
<rect x="493.95" y="196.2" width="39.4" height="13.9" fill="#fff"/>
<text x="513.45" y="208.1" font-size="14.6" text-anchor="middle" fill="#ec0000" textLength="32.6" lengthAdjust="spacingAndGlyphs">30.1</text>
<rect x="493.95" y="212.2" width="39.4" height="13.9" fill="#fff"/>
<text x="513.45" y="224.1" font-size="14.6" text-anchor="middle" fill="#ec0000" textLength="32.6" lengthAdjust="spacingAndGlyphs">61.2</text>
<rect x="493.95" y="228.2" width="39.4" height="13.9" fill="#fff"/>
<text x="513.45" y="240.1" font-size="14.6" text-anchor="middle" fill="#ec0000" textLength="32.6" lengthAdjust="spacingAndGlyphs">62.4</text>
<text x="482.95" y="227.2" font-size="26.4" text-anchor="middle" fill="#fff" textLength="17.8" lengthAdjust="spacingAndGlyphs">2</text>
<path d="M51.95,317.9 H108.95 A3.2,3.2 0 0 1 112.15,321.1 V379 L108.75,382.4 H51.95 A3.2,3.2 0 0 1 48.75,379.2 V321.1 A3.2,3.2 0 0 1 51.95,317.9 Z" fill="#ec0000"/>
<text x="81.15" y="330.4" font-size="14.2" text-anchor="middle" fill="#fff" textLength="36.6" lengthAdjust="spacingAndGlyphs">№ 23</text>
<rect x="70.95" y="334.5" width="39.4" height="13.9" fill="#fff"/>
<text x="90.45" y="346.4" font-size="14.6" text-anchor="middle" fill="#ec0000" textLength="32.6" lengthAdjust="spacingAndGlyphs">19.5</text>
<rect x="70.95" y="350.5" width="39.4" height="13.9" fill="#fff"/>
<text x="90.45" y="362.4" font-size="14.6" text-anchor="middle" fill="#ec0000" textLength="32.6" lengthAdjust="spacingAndGlyphs">36.8</text>
<rect x="70.95" y="366.5" width="39.4" height="13.9" fill="#fff"/>
<text x="90.45" y="378.4" font-size="14.6" text-anchor="middle" fill="#ec0000" textLength="32.6" lengthAdjust="spacingAndGlyphs">38.1</text>
<text x="59.85" y="365.7" font-size="17" text-anchor="middle" fill="#fff" textLength="17.8" lengthAdjust="spacingAndGlyphs">1c</text>
<path d="M490.95,320 H547.95 A3.2,3.2 0 0 1 551.15,323.2 V381.1 L547.75,384.5 H490.95 A3.2,3.2 0 0 1 487.75,381.3 V323.2 A3.2,3.2 0 0 1 490.95,320 Z" fill="#ec0000"/>
<rect x="509.95" y="336.6" width="39.4" height="13.9" fill="#fff"/>
<text x="529.45" y="348.5" font-size="14.6" text-anchor="middle" fill="#ec0000" textLength="32.6" lengthAdjust="spacingAndGlyphs">19.3</text>
<rect x="509.95" y="352.6" width="39.4" height="13.9" fill="#fff"/>
<text x="529.45" y="364.5" font-size="14.6" text-anchor="middle" fill="#ec0000" textLength="32.6" lengthAdjust="spacingAndGlyphs">37.1</text>
<rect x="509.95" y="368.6" width="39.4" height="13.9" fill="#fff"/>
<text x="529.45" y="380.5" font-size="14.6" text-anchor="middle" fill="#ec0000" textLength="32.6" lengthAdjust="spacingAndGlyphs">38.5</text>
<path d="M53.95,542 H110.95 A3.2,3.2 0 0 1 114.15,545.2 V603.1 L110.75,606.5 H53.95 A3.2,3.2 0 0 1 50.75,603.3 V545.2 A3.2,3.2 0 0 1 53.95,542 Z" fill="#ec0000"/>
<text x="83.15" y="554.5" font-size="14.2" text-anchor="middle" fill="#fff" textLength="36.6" lengthAdjust="spacingAndGlyphs">№ 22</text>
<rect x="72.95" y="558.6" width="39.4" height="13.9" fill="#fff"/>
<text x="92.45" y="570.5" font-size="14.6" text-anchor="middle" fill="#ec0000" textLength="32.6" lengthAdjust="spacingAndGlyphs">40.3</text>
<rect x="72.95" y="574.6" width="39.4" height="13.9" fill="#fff"/>
<text x="92.45" y="586.5" font-size="14.6" text-anchor="middle" fill="#ec0000" textLength="32.6" lengthAdjust="spacingAndGlyphs">56.3</text>
<rect x="72.95" y="590.6" width="39.4" height="13.9" fill="#fff"/>
<text x="92.45" y="602.5" font-size="14.6" text-anchor="middle" fill="#ec0000" textLength="32.6" lengthAdjust="spacingAndGlyphs">57.6</text>
<text x="61.95" y="589.6" font-size="26.4" text-anchor="middle" fill="#fff" textLength="17.8" lengthAdjust="spacingAndGlyphs">2</text>
<path d="M490.95,539 H547.95 A3.2,3.2 0 0 1 551.15,542.2 V600.1 L547.75,603.5 H490.95 A3.2,3.2 0 0 1 487.75,600.3 V542.2 A3.2,3.2 0 0 1 490.95,539 Z" fill="#ec0000"/>
<text x="520.15" y="551.5" font-size="14.2" text-anchor="middle" fill="#fff" textLength="36.6" lengthAdjust="spacingAndGlyphs">№ 19</text>
<rect x="509.95" y="555.6" width="39.4" height="13.9" fill="#fff"/>
<text x="529.45" y="567.5" font-size="14.6" text-anchor="middle" fill="#ec0000" textLength="32.6" lengthAdjust="spacingAndGlyphs">41.3</text>
<rect x="509.95" y="571.6" width="39.4" height="13.9" fill="#fff"/>
<text x="529.45" y="583.5" font-size="14.6" text-anchor="middle" fill="#ec0000" textLength="32.6" lengthAdjust="spacingAndGlyphs">57.3</text>
<rect x="509.95" y="587.6" width="39.4" height="13.9" fill="#fff"/>
<text x="529.45" y="599.5" font-size="14.6" text-anchor="middle" fill="#ec0000" textLength="32.6" lengthAdjust="spacingAndGlyphs">58.7</text>
<text x="498.95" y="586.6" font-size="26.4" text-anchor="middle" fill="#fff" textLength="17.8" lengthAdjust="spacingAndGlyphs">2</text>
<path d="M193.95,578 H250.95 A3.2,3.2 0 0 1 254.15,581.2 V639.1 L250.75,642.5 H193.95 A3.2,3.2 0 0 1 190.75,639.3 V581.2 A3.2,3.2 0 0 1 193.95,578 Z" fill="#ec0000"/>
<text x="223.15" y="590.5" font-size="14.2" text-anchor="middle" fill="#fff" textLength="36.6" lengthAdjust="spacingAndGlyphs">№ 21</text>
<rect x="212.95" y="594.6" width="39.4" height="13.9" fill="#fff"/>
<text x="232.45" y="606.5" font-size="14.6" text-anchor="middle" fill="#ec0000" textLength="32.6" lengthAdjust="spacingAndGlyphs">36.0</text>
<rect x="212.95" y="610.6" width="39.4" height="13.9" fill="#fff"/>
<text x="232.45" y="622.5" font-size="14.6" text-anchor="middle" fill="#ec0000" textLength="32.6" lengthAdjust="spacingAndGlyphs">57.6</text>
<rect x="212.95" y="626.6" width="39.4" height="13.9" fill="#fff"/>
<text x="232.45" y="638.5" font-size="14.6" text-anchor="middle" fill="#ec0000" textLength="32.6" lengthAdjust="spacingAndGlyphs">58.9</text>
<text x="201.95" y="625.6" font-size="26.4" text-anchor="middle" fill="#fff" textLength="17.8" lengthAdjust="spacingAndGlyphs">2</text>
<path d="M347.95,577 H404.95 A3.2,3.2 0 0 1 408.15,580.2 V638.1 L404.75,641.5 H347.95 A3.2,3.2 0 0 1 344.75,638.3 V580.2 A3.2,3.2 0 0 1 347.95,577 Z" fill="#ec0000"/>
<text x="377.15" y="589.5" font-size="14.2" text-anchor="middle" fill="#fff" textLength="36.6" lengthAdjust="spacingAndGlyphs">№ 20</text>
<rect x="366.95" y="593.6" width="39.4" height="13.9" fill="#fff"/>
<text x="386.45" y="605.5" font-size="14.6" text-anchor="middle" fill="#ec0000" textLength="32.6" lengthAdjust="spacingAndGlyphs">36.5</text>
<rect x="366.95" y="609.6" width="39.4" height="13.9" fill="#fff"/>
<text x="386.45" y="621.5" font-size="14.6" text-anchor="middle" fill="#ec0000" textLength="32.6" lengthAdjust="spacingAndGlyphs">58.0</text>
<rect x="366.95" y="625.6" width="39.4" height="13.9" fill="#fff"/>
<text x="386.45" y="637.5" font-size="14.6" text-anchor="middle" fill="#ec0000" textLength="32.6" lengthAdjust="spacingAndGlyphs">59.3</text>
<text x="355.95" y="624.6" font-size="26.4" text-anchor="middle" fill="#fff" textLength="17.8" lengthAdjust="spacingAndGlyphs">2</text>
<polygon points="368,309.2 567.4,309.2 567.4,332.8 589.3,332.8 589.3,407.3 368,407.3" fill="#fff200" style="mix-blend-mode:multiply"/>
<text x="520.15" y="332.5" font-size="14.2" text-anchor="middle" fill="#fff" textLength="36.6" lengthAdjust="spacingAndGlyphs">№ 18</text>
<text x="498.85" y="367.8" font-size="17" text-anchor="middle" fill="#fff" textLength="17.8" lengthAdjust="spacingAndGlyphs">1c</text>
</g>
</svg>
</body></html>
